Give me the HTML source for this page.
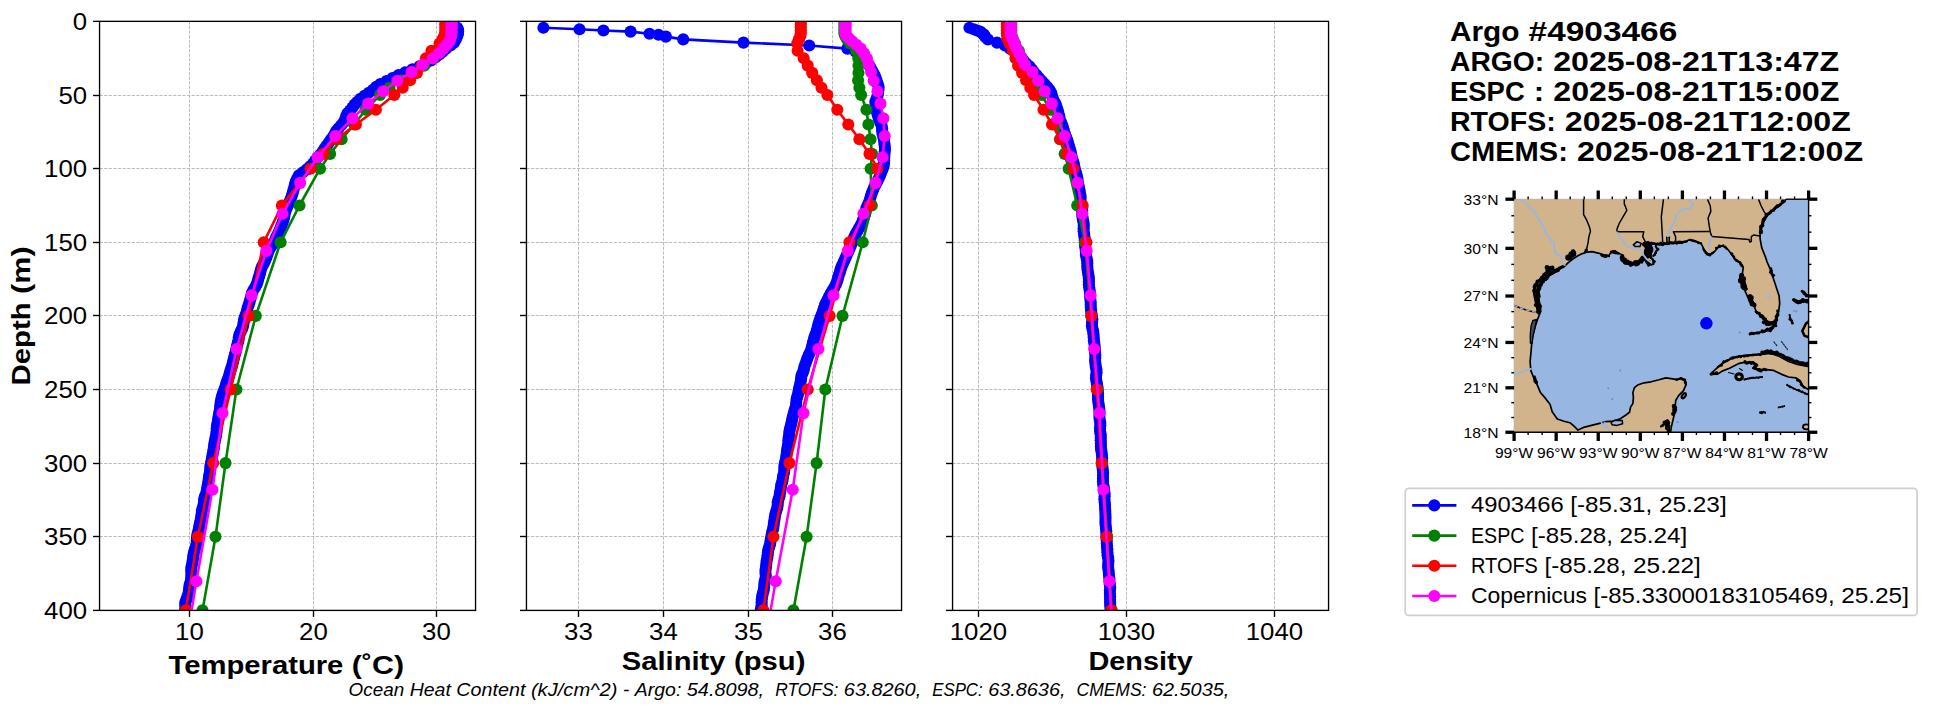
<!DOCTYPE html><html><head><meta charset="utf-8"><title>Argo 4903466 profile comparison</title><style>html,body{margin:0;padding:0;background:#fff;}body{width:1955px;height:712px;overflow:hidden;font-family:"Liberation Sans",sans-serif;}svg{display:block;}</style></head><body><svg width="1955" height="712" viewBox="0 0 1955 712" font-family="'Liberation Sans', sans-serif"><rect width="1955" height="712" fill="#fff"/><clipPath id="c1"><rect x="99.55" y="21.35" width="376.0" height="589.05"/></clipPath><g stroke="#b4b4b4" stroke-width="0.9" stroke-dasharray="3.2 1.4"><line x1="189.5" y1="21.35" x2="189.5" y2="610.4"/><line x1="313.5" y1="21.35" x2="313.5" y2="610.4"/><line x1="436.5" y1="21.35" x2="436.5" y2="610.4"/><line x1="99.55" y1="95.5" x2="475.55" y2="95.5"/><line x1="99.55" y1="168.5" x2="475.55" y2="168.5"/><line x1="99.55" y1="242.5" x2="475.55" y2="242.5"/><line x1="99.55" y1="315.5" x2="475.55" y2="315.5"/><line x1="99.55" y1="389.5" x2="475.55" y2="389.5"/><line x1="99.55" y1="463.5" x2="475.55" y2="463.5"/><line x1="99.55" y1="536.5" x2="475.55" y2="536.5"/></g><g clip-path="url(#c1)"><polyline points="457.3,27.7 457.8,29.2 458.1,30.5 458.1,31.6 457.8,33.8 457.6,34.7 457.0,36.6 455.8,39.4 454.0,42.6 450.5,45.5 446.0,48.6 442.7,51.6 439.5,54.5 435.4,57.5 431.1,60.4 425.8,63.4 419.5,66.3 412.4,69.3 405.2,72.2 398.5,75.1 392.5,78.1 386.5,81.0 380.3,84.0 376.2,86.9 373.0,89.9 368.8,92.8 364.5,95.8 360.4,98.7 357.3,101.7 354.6,104.6 352.4,107.5 350.0,110.5 347.4,113.4 346.1,116.4 345.1,119.3 343.6,122.3 341.1,125.2 338.5,128.2 336.2,131.1 334.6,134.0 332.8,137.0 330.7,139.9 328.7,142.9 326.4,145.8 324.4,148.8 322.5,151.7 320.1,154.7 317.5,157.6 315.3,160.6 313.1,163.5 310.1,166.4 306.8,169.4 302.9,172.3 298.9,175.3 297.3,178.2 295.9,181.2 295.0,184.1 294.3,187.1 293.5,190.0 292.7,192.9 291.8,195.9 290.7,198.8 289.5,201.8 288.3,204.7 286.9,207.7 285.7,210.6 284.8,213.6 284.3,216.5 283.6,219.5 282.6,222.4 281.5,225.3 280.4,228.3 279.1,231.2 277.7,234.2 276.3,237.1 275.1,240.1 273.5,243.0 271.6,246.0 269.7,248.9 268.4,251.8 267.4,254.8 266.3,257.7 265.1,260.7 263.7,263.6 262.0,266.6 260.9,269.5 260.2,272.5 259.4,275.4 258.4,278.4 257.7,281.3 256.7,284.2 255.1,287.2 253.4,290.1 251.9,293.1 251.2,296.0 250.4,299.0 249.6,301.9 248.7,304.9 247.6,307.8 247.0,310.7 246.1,313.7 245.0,316.6 244.1,319.6 243.6,322.5 243.2,325.5 242.3,328.4 240.8,331.4 239.5,334.3 238.8,337.3 238.5,340.2 237.8,343.1 236.9,346.1 236.3,349.0 235.7,352.0 234.8,354.9 234.0,357.9 233.3,360.8 232.6,363.8 231.8,366.7 230.8,369.6 229.9,372.6 229.1,375.5 228.1,378.5 227.0,381.4 226.0,384.4 225.2,387.3 224.0,390.3 222.9,393.2 222.0,396.2 221.3,399.1 220.7,402.0 220.3,405.0 220.1,407.9 219.7,410.9 219.0,413.8 218.5,416.8 218.1,419.7 217.6,422.7 217.0,425.6 216.7,428.5 216.6,431.5 216.2,434.4 215.6,437.4 215.0,440.3 214.4,443.3 214.0,446.2 213.6,449.2 213.1,452.1 212.5,455.1 212.0,458.0 211.5,460.9 210.8,463.9 210.3,466.8 210.2,469.8 209.8,472.7 209.1,475.7 208.8,478.6 208.4,481.6 207.9,484.5 207.3,487.4 206.9,490.4 206.2,493.3 204.9,496.3 204.1,499.2 204.0,502.2 203.5,505.1 202.6,508.1 201.9,511.0 201.6,514.0 201.2,516.9 200.7,519.8 200.0,522.8 199.3,525.7 198.9,528.7 198.2,531.6 197.4,534.6 197.0,537.5 196.8,540.5 196.6,543.4 196.0,546.3 194.9,549.3 194.0,552.2 193.4,555.2 193.1,558.1 192.6,561.1 192.1,564.0 191.4,567.0 191.2,569.9 191.4,572.9 191.3,575.8 191.1,578.7 190.7,581.7 189.7,584.6 189.2,587.6 189.0,590.5 188.4,593.5 187.5,596.4 186.4,599.4 185.3,602.3 185.3,605.2 185.4,608.2 185.1,611.1 184.4,614.1 183.9,617.0 183.7,620.0 183.4,622.9 183.1,625.9" fill="none" stroke="#0000ff" stroke-width="2.6" stroke-linejoin="round"/><g fill="#0000ff"><circle cx="457.3" cy="27.7" r="6.05"/><circle cx="457.8" cy="29.2" r="6.05"/><circle cx="458.1" cy="30.5" r="6.05"/><circle cx="458.1" cy="31.6" r="6.05"/><circle cx="457.8" cy="33.8" r="6.05"/><circle cx="457.6" cy="34.7" r="6.05"/><circle cx="457.0" cy="36.6" r="6.05"/><circle cx="455.8" cy="39.4" r="6.05"/><circle cx="454.0" cy="42.6" r="6.05"/><circle cx="450.5" cy="45.5" r="6.05"/><circle cx="446.0" cy="48.6" r="6.05"/><circle cx="442.7" cy="51.6" r="6.05"/><circle cx="439.5" cy="54.5" r="6.05"/><circle cx="435.4" cy="57.5" r="6.05"/><circle cx="431.1" cy="60.4" r="6.05"/><circle cx="425.8" cy="63.4" r="6.05"/><circle cx="419.5" cy="66.3" r="6.05"/><circle cx="412.4" cy="69.3" r="6.05"/><circle cx="405.2" cy="72.2" r="6.05"/><circle cx="398.5" cy="75.1" r="6.05"/><circle cx="392.5" cy="78.1" r="6.05"/><circle cx="386.5" cy="81.0" r="6.05"/><circle cx="380.3" cy="84.0" r="6.05"/><circle cx="376.2" cy="86.9" r="6.05"/><circle cx="373.0" cy="89.9" r="6.05"/><circle cx="368.8" cy="92.8" r="6.05"/><circle cx="364.5" cy="95.8" r="6.05"/><circle cx="360.4" cy="98.7" r="6.05"/><circle cx="357.3" cy="101.7" r="6.05"/><circle cx="354.6" cy="104.6" r="6.05"/><circle cx="352.4" cy="107.5" r="6.05"/><circle cx="350.0" cy="110.5" r="6.05"/><circle cx="347.4" cy="113.4" r="6.05"/><circle cx="346.1" cy="116.4" r="6.05"/><circle cx="345.1" cy="119.3" r="6.05"/><circle cx="343.6" cy="122.3" r="6.05"/><circle cx="341.1" cy="125.2" r="6.05"/><circle cx="338.5" cy="128.2" r="6.05"/><circle cx="336.2" cy="131.1" r="6.05"/><circle cx="334.6" cy="134.0" r="6.05"/><circle cx="332.8" cy="137.0" r="6.05"/><circle cx="330.7" cy="139.9" r="6.05"/><circle cx="328.7" cy="142.9" r="6.05"/><circle cx="326.4" cy="145.8" r="6.05"/><circle cx="324.4" cy="148.8" r="6.05"/><circle cx="322.5" cy="151.7" r="6.05"/><circle cx="320.1" cy="154.7" r="6.05"/><circle cx="317.5" cy="157.6" r="6.05"/><circle cx="315.3" cy="160.6" r="6.05"/><circle cx="313.1" cy="163.5" r="6.05"/><circle cx="310.1" cy="166.4" r="6.05"/><circle cx="306.8" cy="169.4" r="6.05"/><circle cx="302.9" cy="172.3" r="6.05"/><circle cx="298.9" cy="175.3" r="6.05"/><circle cx="297.3" cy="178.2" r="6.05"/><circle cx="295.9" cy="181.2" r="6.05"/><circle cx="295.0" cy="184.1" r="6.05"/><circle cx="294.3" cy="187.1" r="6.05"/><circle cx="293.5" cy="190.0" r="6.05"/><circle cx="292.7" cy="192.9" r="6.05"/><circle cx="291.8" cy="195.9" r="6.05"/><circle cx="290.7" cy="198.8" r="6.05"/><circle cx="289.5" cy="201.8" r="6.05"/><circle cx="288.3" cy="204.7" r="6.05"/><circle cx="286.9" cy="207.7" r="6.05"/><circle cx="285.7" cy="210.6" r="6.05"/><circle cx="284.8" cy="213.6" r="6.05"/><circle cx="284.3" cy="216.5" r="6.05"/><circle cx="283.6" cy="219.5" r="6.05"/><circle cx="282.6" cy="222.4" r="6.05"/><circle cx="281.5" cy="225.3" r="6.05"/><circle cx="280.4" cy="228.3" r="6.05"/><circle cx="279.1" cy="231.2" r="6.05"/><circle cx="277.7" cy="234.2" r="6.05"/><circle cx="276.3" cy="237.1" r="6.05"/><circle cx="275.1" cy="240.1" r="6.05"/><circle cx="273.5" cy="243.0" r="6.05"/><circle cx="271.6" cy="246.0" r="6.05"/><circle cx="269.7" cy="248.9" r="6.05"/><circle cx="268.4" cy="251.8" r="6.05"/><circle cx="267.4" cy="254.8" r="6.05"/><circle cx="266.3" cy="257.7" r="6.05"/><circle cx="265.1" cy="260.7" r="6.05"/><circle cx="263.7" cy="263.6" r="6.05"/><circle cx="262.0" cy="266.6" r="6.05"/><circle cx="260.9" cy="269.5" r="6.05"/><circle cx="260.2" cy="272.5" r="6.05"/><circle cx="259.4" cy="275.4" r="6.05"/><circle cx="258.4" cy="278.4" r="6.05"/><circle cx="257.7" cy="281.3" r="6.05"/><circle cx="256.7" cy="284.2" r="6.05"/><circle cx="255.1" cy="287.2" r="6.05"/><circle cx="253.4" cy="290.1" r="6.05"/><circle cx="251.9" cy="293.1" r="6.05"/><circle cx="251.2" cy="296.0" r="6.05"/><circle cx="250.4" cy="299.0" r="6.05"/><circle cx="249.6" cy="301.9" r="6.05"/><circle cx="248.7" cy="304.9" r="6.05"/><circle cx="247.6" cy="307.8" r="6.05"/><circle cx="247.0" cy="310.7" r="6.05"/><circle cx="246.1" cy="313.7" r="6.05"/><circle cx="245.0" cy="316.6" r="6.05"/><circle cx="244.1" cy="319.6" r="6.05"/><circle cx="243.6" cy="322.5" r="6.05"/><circle cx="243.2" cy="325.5" r="6.05"/><circle cx="242.3" cy="328.4" r="6.05"/><circle cx="240.8" cy="331.4" r="6.05"/><circle cx="239.5" cy="334.3" r="6.05"/><circle cx="238.8" cy="337.3" r="6.05"/><circle cx="238.5" cy="340.2" r="6.05"/><circle cx="237.8" cy="343.1" r="6.05"/><circle cx="236.9" cy="346.1" r="6.05"/><circle cx="236.3" cy="349.0" r="6.05"/><circle cx="235.7" cy="352.0" r="6.05"/><circle cx="234.8" cy="354.9" r="6.05"/><circle cx="234.0" cy="357.9" r="6.05"/><circle cx="233.3" cy="360.8" r="6.05"/><circle cx="232.6" cy="363.8" r="6.05"/><circle cx="231.8" cy="366.7" r="6.05"/><circle cx="230.8" cy="369.6" r="6.05"/><circle cx="229.9" cy="372.6" r="6.05"/><circle cx="229.1" cy="375.5" r="6.05"/><circle cx="228.1" cy="378.5" r="6.05"/><circle cx="227.0" cy="381.4" r="6.05"/><circle cx="226.0" cy="384.4" r="6.05"/><circle cx="225.2" cy="387.3" r="6.05"/><circle cx="224.0" cy="390.3" r="6.05"/><circle cx="222.9" cy="393.2" r="6.05"/><circle cx="222.0" cy="396.2" r="6.05"/><circle cx="221.3" cy="399.1" r="6.05"/><circle cx="220.7" cy="402.0" r="6.05"/><circle cx="220.3" cy="405.0" r="6.05"/><circle cx="220.1" cy="407.9" r="6.05"/><circle cx="219.7" cy="410.9" r="6.05"/><circle cx="219.0" cy="413.8" r="6.05"/><circle cx="218.5" cy="416.8" r="6.05"/><circle cx="218.1" cy="419.7" r="6.05"/><circle cx="217.6" cy="422.7" r="6.05"/><circle cx="217.0" cy="425.6" r="6.05"/><circle cx="216.7" cy="428.5" r="6.05"/><circle cx="216.6" cy="431.5" r="6.05"/><circle cx="216.2" cy="434.4" r="6.05"/><circle cx="215.6" cy="437.4" r="6.05"/><circle cx="215.0" cy="440.3" r="6.05"/><circle cx="214.4" cy="443.3" r="6.05"/><circle cx="214.0" cy="446.2" r="6.05"/><circle cx="213.6" cy="449.2" r="6.05"/><circle cx="213.1" cy="452.1" r="6.05"/><circle cx="212.5" cy="455.1" r="6.05"/><circle cx="212.0" cy="458.0" r="6.05"/><circle cx="211.5" cy="460.9" r="6.05"/><circle cx="210.8" cy="463.9" r="6.05"/><circle cx="210.3" cy="466.8" r="6.05"/><circle cx="210.2" cy="469.8" r="6.05"/><circle cx="209.8" cy="472.7" r="6.05"/><circle cx="209.1" cy="475.7" r="6.05"/><circle cx="208.8" cy="478.6" r="6.05"/><circle cx="208.4" cy="481.6" r="6.05"/><circle cx="207.9" cy="484.5" r="6.05"/><circle cx="207.3" cy="487.4" r="6.05"/><circle cx="206.9" cy="490.4" r="6.05"/><circle cx="206.2" cy="493.3" r="6.05"/><circle cx="204.9" cy="496.3" r="6.05"/><circle cx="204.1" cy="499.2" r="6.05"/><circle cx="204.0" cy="502.2" r="6.05"/><circle cx="203.5" cy="505.1" r="6.05"/><circle cx="202.6" cy="508.1" r="6.05"/><circle cx="201.9" cy="511.0" r="6.05"/><circle cx="201.6" cy="514.0" r="6.05"/><circle cx="201.2" cy="516.9" r="6.05"/><circle cx="200.7" cy="519.8" r="6.05"/><circle cx="200.0" cy="522.8" r="6.05"/><circle cx="199.3" cy="525.7" r="6.05"/><circle cx="198.9" cy="528.7" r="6.05"/><circle cx="198.2" cy="531.6" r="6.05"/><circle cx="197.4" cy="534.6" r="6.05"/><circle cx="197.0" cy="537.5" r="6.05"/><circle cx="196.8" cy="540.5" r="6.05"/><circle cx="196.6" cy="543.4" r="6.05"/><circle cx="196.0" cy="546.3" r="6.05"/><circle cx="194.9" cy="549.3" r="6.05"/><circle cx="194.0" cy="552.2" r="6.05"/><circle cx="193.4" cy="555.2" r="6.05"/><circle cx="193.1" cy="558.1" r="6.05"/><circle cx="192.6" cy="561.1" r="6.05"/><circle cx="192.1" cy="564.0" r="6.05"/><circle cx="191.4" cy="567.0" r="6.05"/><circle cx="191.2" cy="569.9" r="6.05"/><circle cx="191.4" cy="572.9" r="6.05"/><circle cx="191.3" cy="575.8" r="6.05"/><circle cx="191.1" cy="578.7" r="6.05"/><circle cx="190.7" cy="581.7" r="6.05"/><circle cx="189.7" cy="584.6" r="6.05"/><circle cx="189.2" cy="587.6" r="6.05"/><circle cx="189.0" cy="590.5" r="6.05"/><circle cx="188.4" cy="593.5" r="6.05"/><circle cx="187.5" cy="596.4" r="6.05"/><circle cx="186.4" cy="599.4" r="6.05"/><circle cx="185.3" cy="602.3" r="6.05"/><circle cx="185.3" cy="605.2" r="6.05"/><circle cx="185.4" cy="608.2" r="6.05"/><circle cx="185.1" cy="611.1" r="6.05"/><circle cx="184.4" cy="614.1" r="6.05"/><circle cx="183.9" cy="617.0" r="6.05"/></g><polyline points="448.5,21.4 448.5,24.3 448.5,27.3 448.5,30.2 448.4,33.2 448.0,36.1 447.0,39.1 445.0,43.5 440.0,50.8 433.5,58.2 424.2,65.6 413.0,72.9 401.5,80.3 389.5,87.7 380.0,95.0 365.6,109.8 354.3,124.5 341.6,139.2 330.1,153.9 320.0,168.7 299.5,205.5 280.6,242.3 255.8,315.9 236.4,389.5 225.5,463.1 215.5,536.8 202.5,610.4 176.5,757.6" fill="none" stroke="#008000" stroke-width="2.6" stroke-linejoin="round"/><g fill="#008000"><circle cx="448.5" cy="21.4" r="6.05"/><circle cx="448.5" cy="24.3" r="6.05"/><circle cx="448.5" cy="27.3" r="6.05"/><circle cx="448.5" cy="30.2" r="6.05"/><circle cx="448.4" cy="33.2" r="6.05"/><circle cx="448.0" cy="36.1" r="6.05"/><circle cx="447.0" cy="39.1" r="6.05"/><circle cx="445.0" cy="43.5" r="6.05"/><circle cx="440.0" cy="50.8" r="6.05"/><circle cx="433.5" cy="58.2" r="6.05"/><circle cx="424.2" cy="65.6" r="6.05"/><circle cx="413.0" cy="72.9" r="6.05"/><circle cx="401.5" cy="80.3" r="6.05"/><circle cx="389.5" cy="87.7" r="6.05"/><circle cx="380.0" cy="95.0" r="6.05"/><circle cx="365.6" cy="109.8" r="6.05"/><circle cx="354.3" cy="124.5" r="6.05"/><circle cx="341.6" cy="139.2" r="6.05"/><circle cx="330.1" cy="153.9" r="6.05"/><circle cx="320.0" cy="168.7" r="6.05"/><circle cx="299.5" cy="205.5" r="6.05"/><circle cx="280.6" cy="242.3" r="6.05"/><circle cx="255.8" cy="315.9" r="6.05"/><circle cx="236.4" cy="389.5" r="6.05"/><circle cx="225.5" cy="463.1" r="6.05"/><circle cx="215.5" cy="536.8" r="6.05"/><circle cx="202.5" cy="610.4" r="6.05"/></g><polyline points="445.3,21.4 445.3,24.3 445.3,27.3 445.3,30.2 445.2,33.2 444.2,36.1 442.7,39.1 439.5,43.5 431.5,50.8 425.9,58.2 421.5,65.6 416.9,72.9 410.1,80.3 402.7,87.7 394.3,95.0 375.9,109.8 355.9,124.5 336.4,139.2 323.2,153.9 310.5,168.7 281.9,205.5 263.7,242.3 248.5,315.9 230.6,389.5 213.2,463.1 197.9,536.8 185.8,610.4 161.6,757.6" fill="none" stroke="#ff0000" stroke-width="2.6" stroke-linejoin="round"/><g fill="#ff0000"><circle cx="445.3" cy="21.4" r="6.05"/><circle cx="445.3" cy="24.3" r="6.05"/><circle cx="445.3" cy="27.3" r="6.05"/><circle cx="445.3" cy="30.2" r="6.05"/><circle cx="445.2" cy="33.2" r="6.05"/><circle cx="444.2" cy="36.1" r="6.05"/><circle cx="442.7" cy="39.1" r="6.05"/><circle cx="439.5" cy="43.5" r="6.05"/><circle cx="431.5" cy="50.8" r="6.05"/><circle cx="425.9" cy="58.2" r="6.05"/><circle cx="421.5" cy="65.6" r="6.05"/><circle cx="416.9" cy="72.9" r="6.05"/><circle cx="410.1" cy="80.3" r="6.05"/><circle cx="402.7" cy="87.7" r="6.05"/><circle cx="394.3" cy="95.0" r="6.05"/><circle cx="375.9" cy="109.8" r="6.05"/><circle cx="355.9" cy="124.5" r="6.05"/><circle cx="336.4" cy="139.2" r="6.05"/><circle cx="323.2" cy="153.9" r="6.05"/><circle cx="310.5" cy="168.7" r="6.05"/><circle cx="281.9" cy="205.5" r="6.05"/><circle cx="263.7" cy="242.3" r="6.05"/><circle cx="248.5" cy="315.9" r="6.05"/><circle cx="230.6" cy="389.5" r="6.05"/><circle cx="213.2" cy="463.1" r="6.05"/><circle cx="197.9" cy="536.8" r="6.05"/><circle cx="185.8" cy="610.4" r="6.05"/></g><polyline points="451.6,22.1 451.6,23.7 451.6,25.3 451.6,27.0 451.6,28.9 451.6,30.9 451.5,33.1 451.2,35.5 450.5,38.2 449.6,41.2 446.8,44.7 443.3,48.6 439.0,53.2 432.7,58.5 422.7,64.7 411.6,72.1 397.4,80.7 383.2,91.2 368.2,103.6 352.5,118.3 335.3,136.0 317.7,157.3 300.1,182.9 282.5,213.8 266.4,250.9 251.6,295.4 236.6,349.0 222.5,413.1 212.4,489.8 196.4,581.2 178.6,689.8" fill="none" stroke="#ff00ff" stroke-width="2.6" stroke-linejoin="round"/><g fill="#ff00ff"><circle cx="451.6" cy="22.1" r="6.05"/><circle cx="451.6" cy="23.7" r="6.05"/><circle cx="451.6" cy="25.3" r="6.05"/><circle cx="451.6" cy="27.0" r="6.05"/><circle cx="451.6" cy="28.9" r="6.05"/><circle cx="451.6" cy="30.9" r="6.05"/><circle cx="451.5" cy="33.1" r="6.05"/><circle cx="451.2" cy="35.5" r="6.05"/><circle cx="450.5" cy="38.2" r="6.05"/><circle cx="449.6" cy="41.2" r="6.05"/><circle cx="446.8" cy="44.7" r="6.05"/><circle cx="443.3" cy="48.6" r="6.05"/><circle cx="439.0" cy="53.2" r="6.05"/><circle cx="432.7" cy="58.5" r="6.05"/><circle cx="422.7" cy="64.7" r="6.05"/><circle cx="411.6" cy="72.1" r="6.05"/><circle cx="397.4" cy="80.7" r="6.05"/><circle cx="383.2" cy="91.2" r="6.05"/><circle cx="368.2" cy="103.6" r="6.05"/><circle cx="352.5" cy="118.3" r="6.05"/><circle cx="335.3" cy="136.0" r="6.05"/><circle cx="317.7" cy="157.3" r="6.05"/><circle cx="300.1" cy="182.9" r="6.05"/><circle cx="282.5" cy="213.8" r="6.05"/><circle cx="266.4" cy="250.9" r="6.05"/><circle cx="251.6" cy="295.4" r="6.05"/><circle cx="236.6" cy="349.0" r="6.05"/><circle cx="222.5" cy="413.1" r="6.05"/><circle cx="212.4" cy="489.8" r="6.05"/><circle cx="196.4" cy="581.2" r="6.05"/></g></g><rect x="99.55" y="21.35" width="376.0" height="589.05" fill="none" stroke="#000" stroke-width="1.34"/><g stroke="#000" stroke-width="1.39"><line x1="189.5" y1="610.4" x2="189.5" y2="616.9"/><line x1="313.5" y1="610.4" x2="313.5" y2="616.9"/><line x1="436.5" y1="610.4" x2="436.5" y2="616.9"/><line x1="93.05" y1="21.35" x2="99.55" y2="21.35"/><line x1="93.05" y1="95.5" x2="99.55" y2="95.5"/><line x1="93.05" y1="168.5" x2="99.55" y2="168.5"/><line x1="93.05" y1="242.5" x2="99.55" y2="242.5"/><line x1="93.05" y1="315.5" x2="99.55" y2="315.5"/><line x1="93.05" y1="389.5" x2="99.55" y2="389.5"/><line x1="93.05" y1="463.5" x2="99.55" y2="463.5"/><line x1="93.05" y1="536.5" x2="99.55" y2="536.5"/><line x1="93.05" y1="610.4" x2="99.55" y2="610.4"/></g><text x="175.14" y="640.00" font-size="23.88" fill="#000" textLength="28.72" lengthAdjust="spacingAndGlyphs">10</text><text x="299.14" y="640.00" font-size="23.88" fill="#000" textLength="28.72" lengthAdjust="spacingAndGlyphs">20</text><text x="422.14" y="640.00" font-size="23.88" fill="#000" textLength="28.72" lengthAdjust="spacingAndGlyphs">30</text><clipPath id="c2"><rect x="526.45" y="21.35" width="375.0999999999999" height="589.05"/></clipPath><g stroke="#b4b4b4" stroke-width="0.9" stroke-dasharray="3.2 1.4"><line x1="578.5" y1="21.35" x2="578.5" y2="610.4"/><line x1="663.5" y1="21.35" x2="663.5" y2="610.4"/><line x1="748.5" y1="21.35" x2="748.5" y2="610.4"/><line x1="832.5" y1="21.35" x2="832.5" y2="610.4"/><line x1="526.45" y1="95.5" x2="901.55" y2="95.5"/><line x1="526.45" y1="168.5" x2="901.55" y2="168.5"/><line x1="526.45" y1="242.5" x2="901.55" y2="242.5"/><line x1="526.45" y1="315.5" x2="901.55" y2="315.5"/><line x1="526.45" y1="389.5" x2="901.55" y2="389.5"/><line x1="526.45" y1="463.5" x2="901.55" y2="463.5"/><line x1="526.45" y1="536.5" x2="901.55" y2="536.5"/></g><g clip-path="url(#c2)"><polyline points="543.4,27.7 579.5,29.2 603.4,30.5 630.6,31.6 649.5,33.8 658.5,34.7 665.9,36.6 683.2,39.4 743.5,42.6 809.2,45.5 847.4,48.6 855.6,51.6 860.4,54.5 863.8,57.5 866.0,60.4 867.9,63.4 869.8,66.3 871.5,69.3 873.0,72.2 874.6,75.1 875.7,78.1 876.7,81.0 877.7,84.0 878.6,86.9 878.5,89.9 878.0,92.8 877.6,95.8 876.6,98.7 875.3,101.7 875.7,104.6 876.3,107.5 876.4,110.5 877.3,113.4 878.2,116.4 879.0,119.3 880.4,122.3 881.5,125.2 882.1,128.2 882.2,131.1 882.5,134.0 883.3,137.0 884.1,139.9 884.3,142.9 884.7,145.8 885.0,148.8 884.7,151.7 884.4,154.7 884.3,157.6 884.2,160.6 884.0,163.5 883.5,166.4 882.5,169.4 881.2,172.3 880.1,175.3 878.8,178.2 877.3,181.2 875.9,184.1 874.3,187.1 873.1,190.0 871.9,192.9 870.9,195.9 870.1,198.8 869.2,201.8 867.8,204.7 866.5,207.7 865.8,210.6 865.3,213.6 864.2,216.5 863.1,219.5 862.2,222.4 860.6,225.3 858.9,228.3 857.2,231.2 855.5,234.2 854.2,237.1 853.2,240.1 852.0,243.0 850.7,246.0 849.5,248.9 848.2,251.8 846.9,254.8 845.6,257.7 844.3,260.7 843.0,263.6 841.6,266.6 840.6,269.5 839.8,272.5 838.7,275.4 837.9,278.4 837.1,281.3 835.9,284.2 834.4,287.2 832.7,290.1 830.9,293.1 829.3,296.0 827.9,299.0 826.5,301.9 825.0,304.9 824.0,307.8 823.1,310.7 822.1,313.7 821.0,316.6 819.9,319.6 818.9,322.5 818.1,325.5 817.4,328.4 816.6,331.4 815.5,334.3 814.4,337.3 813.6,340.2 812.9,343.1 812.1,346.1 811.4,349.0 810.3,352.0 808.8,354.9 807.5,357.9 806.6,360.8 805.5,363.8 804.4,366.7 803.9,369.6 802.8,372.6 801.5,375.5 801.1,378.5 800.7,381.4 800.1,384.4 799.3,387.3 798.7,390.3 798.2,393.2 797.4,396.2 796.6,399.1 796.3,402.0 796.1,405.0 795.4,407.9 794.4,410.9 793.6,413.8 792.8,416.8 792.1,419.7 791.5,422.7 790.9,425.6 790.0,428.5 789.4,431.5 789.2,434.4 788.7,437.4 788.4,440.3 788.3,443.3 787.8,446.2 787.2,449.2 786.9,452.1 786.5,455.1 786.1,458.0 785.5,460.9 784.7,463.9 784.3,466.8 784.3,469.8 784.0,472.7 783.1,475.7 782.8,478.6 782.3,481.6 781.3,484.5 780.9,487.4 780.5,490.4 779.9,493.3 779.5,496.3 778.5,499.2 777.7,502.2 777.7,505.1 777.2,508.1 776.3,511.0 775.4,514.0 774.8,516.9 774.5,519.8 773.9,522.8 773.6,525.7 773.1,528.7 772.3,531.6 771.7,534.6 771.2,537.5 770.6,540.5 770.2,543.4 769.4,546.3 768.4,549.3 767.9,552.2 767.6,555.2 767.3,558.1 766.6,561.1 766.3,564.0 766.0,567.0 765.5,569.9 765.5,572.9 765.8,575.8 765.4,578.7 764.6,581.7 764.3,584.6 764.2,587.6 763.7,590.5 762.8,593.5 762.1,596.4 761.7,599.4 761.6,602.3 761.6,605.2 761.1,608.2 760.5,611.1 760.0,614.1 759.5,617.0 758.9,620.0 758.7,622.9 758.7,625.9" fill="none" stroke="#0000ff" stroke-width="2.6" stroke-linejoin="round"/><g fill="#0000ff"><circle cx="543.4" cy="27.7" r="6.05"/><circle cx="579.5" cy="29.2" r="6.05"/><circle cx="603.4" cy="30.5" r="6.05"/><circle cx="630.6" cy="31.6" r="6.05"/><circle cx="649.5" cy="33.8" r="6.05"/><circle cx="658.5" cy="34.7" r="6.05"/><circle cx="665.9" cy="36.6" r="6.05"/><circle cx="683.2" cy="39.4" r="6.05"/><circle cx="743.5" cy="42.6" r="6.05"/><circle cx="809.2" cy="45.5" r="6.05"/><circle cx="847.4" cy="48.6" r="6.05"/><circle cx="855.6" cy="51.6" r="6.05"/><circle cx="860.4" cy="54.5" r="6.05"/><circle cx="863.8" cy="57.5" r="6.05"/><circle cx="866.0" cy="60.4" r="6.05"/><circle cx="867.9" cy="63.4" r="6.05"/><circle cx="869.8" cy="66.3" r="6.05"/><circle cx="871.5" cy="69.3" r="6.05"/><circle cx="873.0" cy="72.2" r="6.05"/><circle cx="874.6" cy="75.1" r="6.05"/><circle cx="875.7" cy="78.1" r="6.05"/><circle cx="876.7" cy="81.0" r="6.05"/><circle cx="877.7" cy="84.0" r="6.05"/><circle cx="878.6" cy="86.9" r="6.05"/><circle cx="878.5" cy="89.9" r="6.05"/><circle cx="878.0" cy="92.8" r="6.05"/><circle cx="877.6" cy="95.8" r="6.05"/><circle cx="876.6" cy="98.7" r="6.05"/><circle cx="875.3" cy="101.7" r="6.05"/><circle cx="875.7" cy="104.6" r="6.05"/><circle cx="876.3" cy="107.5" r="6.05"/><circle cx="876.4" cy="110.5" r="6.05"/><circle cx="877.3" cy="113.4" r="6.05"/><circle cx="878.2" cy="116.4" r="6.05"/><circle cx="879.0" cy="119.3" r="6.05"/><circle cx="880.4" cy="122.3" r="6.05"/><circle cx="881.5" cy="125.2" r="6.05"/><circle cx="882.1" cy="128.2" r="6.05"/><circle cx="882.2" cy="131.1" r="6.05"/><circle cx="882.5" cy="134.0" r="6.05"/><circle cx="883.3" cy="137.0" r="6.05"/><circle cx="884.1" cy="139.9" r="6.05"/><circle cx="884.3" cy="142.9" r="6.05"/><circle cx="884.7" cy="145.8" r="6.05"/><circle cx="885.0" cy="148.8" r="6.05"/><circle cx="884.7" cy="151.7" r="6.05"/><circle cx="884.4" cy="154.7" r="6.05"/><circle cx="884.3" cy="157.6" r="6.05"/><circle cx="884.2" cy="160.6" r="6.05"/><circle cx="884.0" cy="163.5" r="6.05"/><circle cx="883.5" cy="166.4" r="6.05"/><circle cx="882.5" cy="169.4" r="6.05"/><circle cx="881.2" cy="172.3" r="6.05"/><circle cx="880.1" cy="175.3" r="6.05"/><circle cx="878.8" cy="178.2" r="6.05"/><circle cx="877.3" cy="181.2" r="6.05"/><circle cx="875.9" cy="184.1" r="6.05"/><circle cx="874.3" cy="187.1" r="6.05"/><circle cx="873.1" cy="190.0" r="6.05"/><circle cx="871.9" cy="192.9" r="6.05"/><circle cx="870.9" cy="195.9" r="6.05"/><circle cx="870.1" cy="198.8" r="6.05"/><circle cx="869.2" cy="201.8" r="6.05"/><circle cx="867.8" cy="204.7" r="6.05"/><circle cx="866.5" cy="207.7" r="6.05"/><circle cx="865.8" cy="210.6" r="6.05"/><circle cx="865.3" cy="213.6" r="6.05"/><circle cx="864.2" cy="216.5" r="6.05"/><circle cx="863.1" cy="219.5" r="6.05"/><circle cx="862.2" cy="222.4" r="6.05"/><circle cx="860.6" cy="225.3" r="6.05"/><circle cx="858.9" cy="228.3" r="6.05"/><circle cx="857.2" cy="231.2" r="6.05"/><circle cx="855.5" cy="234.2" r="6.05"/><circle cx="854.2" cy="237.1" r="6.05"/><circle cx="853.2" cy="240.1" r="6.05"/><circle cx="852.0" cy="243.0" r="6.05"/><circle cx="850.7" cy="246.0" r="6.05"/><circle cx="849.5" cy="248.9" r="6.05"/><circle cx="848.2" cy="251.8" r="6.05"/><circle cx="846.9" cy="254.8" r="6.05"/><circle cx="845.6" cy="257.7" r="6.05"/><circle cx="844.3" cy="260.7" r="6.05"/><circle cx="843.0" cy="263.6" r="6.05"/><circle cx="841.6" cy="266.6" r="6.05"/><circle cx="840.6" cy="269.5" r="6.05"/><circle cx="839.8" cy="272.5" r="6.05"/><circle cx="838.7" cy="275.4" r="6.05"/><circle cx="837.9" cy="278.4" r="6.05"/><circle cx="837.1" cy="281.3" r="6.05"/><circle cx="835.9" cy="284.2" r="6.05"/><circle cx="834.4" cy="287.2" r="6.05"/><circle cx="832.7" cy="290.1" r="6.05"/><circle cx="830.9" cy="293.1" r="6.05"/><circle cx="829.3" cy="296.0" r="6.05"/><circle cx="827.9" cy="299.0" r="6.05"/><circle cx="826.5" cy="301.9" r="6.05"/><circle cx="825.0" cy="304.9" r="6.05"/><circle cx="824.0" cy="307.8" r="6.05"/><circle cx="823.1" cy="310.7" r="6.05"/><circle cx="822.1" cy="313.7" r="6.05"/><circle cx="821.0" cy="316.6" r="6.05"/><circle cx="819.9" cy="319.6" r="6.05"/><circle cx="818.9" cy="322.5" r="6.05"/><circle cx="818.1" cy="325.5" r="6.05"/><circle cx="817.4" cy="328.4" r="6.05"/><circle cx="816.6" cy="331.4" r="6.05"/><circle cx="815.5" cy="334.3" r="6.05"/><circle cx="814.4" cy="337.3" r="6.05"/><circle cx="813.6" cy="340.2" r="6.05"/><circle cx="812.9" cy="343.1" r="6.05"/><circle cx="812.1" cy="346.1" r="6.05"/><circle cx="811.4" cy="349.0" r="6.05"/><circle cx="810.3" cy="352.0" r="6.05"/><circle cx="808.8" cy="354.9" r="6.05"/><circle cx="807.5" cy="357.9" r="6.05"/><circle cx="806.6" cy="360.8" r="6.05"/><circle cx="805.5" cy="363.8" r="6.05"/><circle cx="804.4" cy="366.7" r="6.05"/><circle cx="803.9" cy="369.6" r="6.05"/><circle cx="802.8" cy="372.6" r="6.05"/><circle cx="801.5" cy="375.5" r="6.05"/><circle cx="801.1" cy="378.5" r="6.05"/><circle cx="800.7" cy="381.4" r="6.05"/><circle cx="800.1" cy="384.4" r="6.05"/><circle cx="799.3" cy="387.3" r="6.05"/><circle cx="798.7" cy="390.3" r="6.05"/><circle cx="798.2" cy="393.2" r="6.05"/><circle cx="797.4" cy="396.2" r="6.05"/><circle cx="796.6" cy="399.1" r="6.05"/><circle cx="796.3" cy="402.0" r="6.05"/><circle cx="796.1" cy="405.0" r="6.05"/><circle cx="795.4" cy="407.9" r="6.05"/><circle cx="794.4" cy="410.9" r="6.05"/><circle cx="793.6" cy="413.8" r="6.05"/><circle cx="792.8" cy="416.8" r="6.05"/><circle cx="792.1" cy="419.7" r="6.05"/><circle cx="791.5" cy="422.7" r="6.05"/><circle cx="790.9" cy="425.6" r="6.05"/><circle cx="790.0" cy="428.5" r="6.05"/><circle cx="789.4" cy="431.5" r="6.05"/><circle cx="789.2" cy="434.4" r="6.05"/><circle cx="788.7" cy="437.4" r="6.05"/><circle cx="788.4" cy="440.3" r="6.05"/><circle cx="788.3" cy="443.3" r="6.05"/><circle cx="787.8" cy="446.2" r="6.05"/><circle cx="787.2" cy="449.2" r="6.05"/><circle cx="786.9" cy="452.1" r="6.05"/><circle cx="786.5" cy="455.1" r="6.05"/><circle cx="786.1" cy="458.0" r="6.05"/><circle cx="785.5" cy="460.9" r="6.05"/><circle cx="784.7" cy="463.9" r="6.05"/><circle cx="784.3" cy="466.8" r="6.05"/><circle cx="784.3" cy="469.8" r="6.05"/><circle cx="784.0" cy="472.7" r="6.05"/><circle cx="783.1" cy="475.7" r="6.05"/><circle cx="782.8" cy="478.6" r="6.05"/><circle cx="782.3" cy="481.6" r="6.05"/><circle cx="781.3" cy="484.5" r="6.05"/><circle cx="780.9" cy="487.4" r="6.05"/><circle cx="780.5" cy="490.4" r="6.05"/><circle cx="779.9" cy="493.3" r="6.05"/><circle cx="779.5" cy="496.3" r="6.05"/><circle cx="778.5" cy="499.2" r="6.05"/><circle cx="777.7" cy="502.2" r="6.05"/><circle cx="777.7" cy="505.1" r="6.05"/><circle cx="777.2" cy="508.1" r="6.05"/><circle cx="776.3" cy="511.0" r="6.05"/><circle cx="775.4" cy="514.0" r="6.05"/><circle cx="774.8" cy="516.9" r="6.05"/><circle cx="774.5" cy="519.8" r="6.05"/><circle cx="773.9" cy="522.8" r="6.05"/><circle cx="773.6" cy="525.7" r="6.05"/><circle cx="773.1" cy="528.7" r="6.05"/><circle cx="772.3" cy="531.6" r="6.05"/><circle cx="771.7" cy="534.6" r="6.05"/><circle cx="771.2" cy="537.5" r="6.05"/><circle cx="770.6" cy="540.5" r="6.05"/><circle cx="770.2" cy="543.4" r="6.05"/><circle cx="769.4" cy="546.3" r="6.05"/><circle cx="768.4" cy="549.3" r="6.05"/><circle cx="767.9" cy="552.2" r="6.05"/><circle cx="767.6" cy="555.2" r="6.05"/><circle cx="767.3" cy="558.1" r="6.05"/><circle cx="766.6" cy="561.1" r="6.05"/><circle cx="766.3" cy="564.0" r="6.05"/><circle cx="766.0" cy="567.0" r="6.05"/><circle cx="765.5" cy="569.9" r="6.05"/><circle cx="765.5" cy="572.9" r="6.05"/><circle cx="765.8" cy="575.8" r="6.05"/><circle cx="765.4" cy="578.7" r="6.05"/><circle cx="764.6" cy="581.7" r="6.05"/><circle cx="764.3" cy="584.6" r="6.05"/><circle cx="764.2" cy="587.6" r="6.05"/><circle cx="763.7" cy="590.5" r="6.05"/><circle cx="762.8" cy="593.5" r="6.05"/><circle cx="762.1" cy="596.4" r="6.05"/><circle cx="761.7" cy="599.4" r="6.05"/><circle cx="761.6" cy="602.3" r="6.05"/><circle cx="761.6" cy="605.2" r="6.05"/><circle cx="761.1" cy="608.2" r="6.05"/><circle cx="760.5" cy="611.1" r="6.05"/><circle cx="760.0" cy="614.1" r="6.05"/><circle cx="759.5" cy="617.0" r="6.05"/></g><polyline points="844.4,21.4 844.4,24.3 844.4,27.3 844.4,30.2 844.4,33.2 845.2,36.1 846.8,39.1 850.0,43.5 856.3,50.8 858.3,58.2 858.5,65.6 858.5,72.9 858.1,80.3 859.4,87.7 861.1,95.0 866.4,109.8 868.4,124.5 870.5,139.2 872.0,153.9 870.6,168.7 871.8,205.5 862.7,242.3 842.5,315.9 825.3,389.5 816.6,463.1 806.6,536.8 793.4,610.4 767.0,757.6" fill="none" stroke="#008000" stroke-width="2.6" stroke-linejoin="round"/><g fill="#008000"><circle cx="844.4" cy="21.4" r="6.05"/><circle cx="844.4" cy="24.3" r="6.05"/><circle cx="844.4" cy="27.3" r="6.05"/><circle cx="844.4" cy="30.2" r="6.05"/><circle cx="844.4" cy="33.2" r="6.05"/><circle cx="845.2" cy="36.1" r="6.05"/><circle cx="846.8" cy="39.1" r="6.05"/><circle cx="850.0" cy="43.5" r="6.05"/><circle cx="856.3" cy="50.8" r="6.05"/><circle cx="858.3" cy="58.2" r="6.05"/><circle cx="858.5" cy="65.6" r="6.05"/><circle cx="858.5" cy="72.9" r="6.05"/><circle cx="858.1" cy="80.3" r="6.05"/><circle cx="859.4" cy="87.7" r="6.05"/><circle cx="861.1" cy="95.0" r="6.05"/><circle cx="866.4" cy="109.8" r="6.05"/><circle cx="868.4" cy="124.5" r="6.05"/><circle cx="870.5" cy="139.2" r="6.05"/><circle cx="872.0" cy="153.9" r="6.05"/><circle cx="870.6" cy="168.7" r="6.05"/><circle cx="871.8" cy="205.5" r="6.05"/><circle cx="862.7" cy="242.3" r="6.05"/><circle cx="842.5" cy="315.9" r="6.05"/><circle cx="825.3" cy="389.5" r="6.05"/><circle cx="816.6" cy="463.1" r="6.05"/><circle cx="806.6" cy="536.8" r="6.05"/><circle cx="793.4" cy="610.4" r="6.05"/></g><polyline points="800.8,21.4 800.8,24.3 800.8,27.3 800.8,30.2 800.8,33.2 800.4,36.1 799.0,39.1 797.2,43.5 797.6,50.8 803.7,58.2 807.7,65.6 812.2,72.9 816.9,80.3 821.5,87.7 827.4,95.0 837.3,109.8 848.3,124.5 859.4,139.2 869.5,153.9 877.4,168.7 869.7,205.5 849.4,242.3 829.6,315.9 807.7,389.5 789.4,463.1 773.5,536.8 763.4,610.4 743.0,757.6" fill="none" stroke="#ff0000" stroke-width="2.6" stroke-linejoin="round"/><g fill="#ff0000"><circle cx="800.8" cy="21.4" r="6.05"/><circle cx="800.8" cy="24.3" r="6.05"/><circle cx="800.8" cy="27.3" r="6.05"/><circle cx="800.8" cy="30.2" r="6.05"/><circle cx="800.8" cy="33.2" r="6.05"/><circle cx="800.4" cy="36.1" r="6.05"/><circle cx="799.0" cy="39.1" r="6.05"/><circle cx="797.2" cy="43.5" r="6.05"/><circle cx="797.6" cy="50.8" r="6.05"/><circle cx="803.7" cy="58.2" r="6.05"/><circle cx="807.7" cy="65.6" r="6.05"/><circle cx="812.2" cy="72.9" r="6.05"/><circle cx="816.9" cy="80.3" r="6.05"/><circle cx="821.5" cy="87.7" r="6.05"/><circle cx="827.4" cy="95.0" r="6.05"/><circle cx="837.3" cy="109.8" r="6.05"/><circle cx="848.3" cy="124.5" r="6.05"/><circle cx="859.4" cy="139.2" r="6.05"/><circle cx="869.5" cy="153.9" r="6.05"/><circle cx="877.4" cy="168.7" r="6.05"/><circle cx="869.7" cy="205.5" r="6.05"/><circle cx="849.4" cy="242.3" r="6.05"/><circle cx="829.6" cy="315.9" r="6.05"/><circle cx="807.7" cy="389.5" r="6.05"/><circle cx="789.4" cy="463.1" r="6.05"/><circle cx="773.5" cy="536.8" r="6.05"/><circle cx="763.4" cy="610.4" r="6.05"/></g><polyline points="845.5,22.1 845.5,23.7 845.5,25.3 845.5,27.0 845.5,28.9 845.5,30.9 845.5,33.1 846.1,35.5 849.0,38.2 852.2,41.2 856.4,44.7 860.6,48.6 864.0,53.2 866.9,58.5 868.8,64.7 871.1,72.1 873.7,80.7 877.5,91.2 880.5,103.6 883.4,118.3 884.7,136.0 882.6,157.3 875.6,182.9 863.4,213.8 847.8,250.9 833.5,295.4 818.4,349.0 803.5,413.1 792.7,489.8 775.7,581.2 756.7,689.8" fill="none" stroke="#ff00ff" stroke-width="2.6" stroke-linejoin="round"/><g fill="#ff00ff"><circle cx="845.5" cy="22.1" r="6.05"/><circle cx="845.5" cy="23.7" r="6.05"/><circle cx="845.5" cy="25.3" r="6.05"/><circle cx="845.5" cy="27.0" r="6.05"/><circle cx="845.5" cy="28.9" r="6.05"/><circle cx="845.5" cy="30.9" r="6.05"/><circle cx="845.5" cy="33.1" r="6.05"/><circle cx="846.1" cy="35.5" r="6.05"/><circle cx="849.0" cy="38.2" r="6.05"/><circle cx="852.2" cy="41.2" r="6.05"/><circle cx="856.4" cy="44.7" r="6.05"/><circle cx="860.6" cy="48.6" r="6.05"/><circle cx="864.0" cy="53.2" r="6.05"/><circle cx="866.9" cy="58.5" r="6.05"/><circle cx="868.8" cy="64.7" r="6.05"/><circle cx="871.1" cy="72.1" r="6.05"/><circle cx="873.7" cy="80.7" r="6.05"/><circle cx="877.5" cy="91.2" r="6.05"/><circle cx="880.5" cy="103.6" r="6.05"/><circle cx="883.4" cy="118.3" r="6.05"/><circle cx="884.7" cy="136.0" r="6.05"/><circle cx="882.6" cy="157.3" r="6.05"/><circle cx="875.6" cy="182.9" r="6.05"/><circle cx="863.4" cy="213.8" r="6.05"/><circle cx="847.8" cy="250.9" r="6.05"/><circle cx="833.5" cy="295.4" r="6.05"/><circle cx="818.4" cy="349.0" r="6.05"/><circle cx="803.5" cy="413.1" r="6.05"/><circle cx="792.7" cy="489.8" r="6.05"/><circle cx="775.7" cy="581.2" r="6.05"/></g></g><rect x="526.45" y="21.35" width="375.0999999999999" height="589.05" fill="none" stroke="#000" stroke-width="1.34"/><g stroke="#000" stroke-width="1.39"><line x1="578.5" y1="610.4" x2="578.5" y2="616.9"/><line x1="663.5" y1="610.4" x2="663.5" y2="616.9"/><line x1="748.5" y1="610.4" x2="748.5" y2="616.9"/><line x1="832.5" y1="610.4" x2="832.5" y2="616.9"/><line x1="519.95" y1="21.35" x2="526.45" y2="21.35"/><line x1="519.95" y1="95.5" x2="526.45" y2="95.5"/><line x1="519.95" y1="168.5" x2="526.45" y2="168.5"/><line x1="519.95" y1="242.5" x2="526.45" y2="242.5"/><line x1="519.95" y1="315.5" x2="526.45" y2="315.5"/><line x1="519.95" y1="389.5" x2="526.45" y2="389.5"/><line x1="519.95" y1="463.5" x2="526.45" y2="463.5"/><line x1="519.95" y1="536.5" x2="526.45" y2="536.5"/><line x1="519.95" y1="610.4" x2="526.45" y2="610.4"/></g><text x="564.14" y="640.00" font-size="23.88" fill="#000" textLength="28.72" lengthAdjust="spacingAndGlyphs">33</text><text x="649.14" y="640.00" font-size="23.88" fill="#000" textLength="28.72" lengthAdjust="spacingAndGlyphs">34</text><text x="734.14" y="640.00" font-size="23.88" fill="#000" textLength="28.72" lengthAdjust="spacingAndGlyphs">35</text><text x="818.14" y="640.00" font-size="23.88" fill="#000" textLength="28.72" lengthAdjust="spacingAndGlyphs">36</text><clipPath id="c3"><rect x="952.55" y="21.35" width="376.0" height="589.05"/></clipPath><g stroke="#b4b4b4" stroke-width="0.9" stroke-dasharray="3.2 1.4"><line x1="978.5" y1="21.35" x2="978.5" y2="610.4"/><line x1="1126.5" y1="21.35" x2="1126.5" y2="610.4"/><line x1="1274.5" y1="21.35" x2="1274.5" y2="610.4"/><line x1="952.55" y1="95.5" x2="1328.55" y2="95.5"/><line x1="952.55" y1="168.5" x2="1328.55" y2="168.5"/><line x1="952.55" y1="242.5" x2="1328.55" y2="242.5"/><line x1="952.55" y1="315.5" x2="1328.55" y2="315.5"/><line x1="952.55" y1="389.5" x2="1328.55" y2="389.5"/><line x1="952.55" y1="463.5" x2="1328.55" y2="463.5"/><line x1="952.55" y1="536.5" x2="1328.55" y2="536.5"/></g><g clip-path="url(#c3)"><polyline points="969.4,27.7 973.8,29.2 977.0,30.5 980.2,31.6 982.9,33.8 984.0,34.7 985.0,36.6 987.9,39.4 997.0,42.6 1004.9,45.5 1010.0,48.6 1015.0,51.6 1019.5,54.5 1021.4,57.5 1023.5,60.4 1026.1,63.4 1029.5,66.3 1031.9,69.3 1034.0,72.2 1036.5,75.1 1039.1,78.1 1041.9,81.0 1044.6,84.0 1047.1,86.9 1049.5,89.9 1051.2,92.8 1052.0,95.8 1052.9,98.7 1054.4,101.7 1055.8,104.6 1056.8,107.5 1057.8,110.5 1058.5,113.4 1059.3,116.4 1059.7,119.3 1061.1,122.3 1062.3,125.2 1063.2,128.2 1064.0,131.1 1065.0,134.0 1066.1,137.0 1067.2,139.9 1068.1,142.9 1068.9,145.8 1069.8,148.8 1070.7,151.7 1071.2,154.7 1071.8,157.6 1072.8,160.6 1073.8,163.5 1074.3,166.4 1074.9,169.4 1075.9,172.3 1076.7,175.3 1077.4,178.2 1077.7,181.2 1078.2,184.1 1078.9,187.1 1079.5,190.0 1079.9,192.9 1080.6,195.9 1080.6,198.8 1080.6,201.8 1081.4,204.7 1082.2,207.7 1082.2,210.6 1082.1,213.6 1082.4,216.5 1082.9,219.5 1083.5,222.4 1083.8,225.3 1083.6,228.3 1083.6,231.2 1084.1,234.2 1084.5,237.1 1084.7,240.1 1084.9,243.0 1085.1,246.0 1085.6,248.9 1085.8,251.8 1085.9,254.8 1086.5,257.7 1087.2,260.7 1087.3,263.6 1087.3,266.6 1087.5,269.5 1088.0,272.5 1088.5,275.4 1088.9,278.4 1088.9,281.3 1088.9,284.2 1089.2,287.2 1089.6,290.1 1090.0,293.1 1090.1,296.0 1090.3,299.0 1090.7,301.9 1090.7,304.9 1090.8,307.8 1091.1,310.7 1091.5,313.7 1092.0,316.6 1092.4,319.6 1092.1,322.5 1091.9,325.5 1092.4,328.4 1093.2,331.4 1093.5,334.3 1093.7,337.3 1093.9,340.2 1094.3,343.1 1094.7,346.1 1094.8,349.0 1095.0,352.0 1095.3,354.9 1095.3,357.9 1095.1,360.8 1095.4,363.8 1095.8,366.7 1096.4,369.6 1096.6,372.6 1096.1,375.5 1096.0,378.5 1096.5,381.4 1097.0,384.4 1097.5,387.3 1097.8,390.3 1098.0,393.2 1098.0,396.2 1098.0,399.1 1098.3,402.0 1098.8,405.0 1099.2,407.9 1099.5,410.9 1099.5,413.8 1099.4,416.8 1099.7,419.7 1100.3,422.7 1100.3,425.6 1100.0,428.5 1100.1,431.5 1100.7,434.4 1100.8,437.4 1100.7,440.3 1100.9,443.3 1100.9,446.2 1101.1,449.2 1101.6,452.1 1101.9,455.1 1102.2,458.0 1102.2,460.9 1102.2,463.9 1102.4,466.8 1102.8,469.8 1103.1,472.7 1103.0,475.7 1103.0,478.6 1102.9,481.6 1103.2,484.5 1103.8,487.4 1104.2,490.4 1104.6,493.3 1104.6,496.3 1104.4,499.2 1104.7,502.2 1105.0,505.1 1105.1,508.1 1105.3,511.0 1105.4,514.0 1105.5,516.9 1105.5,519.8 1105.4,522.8 1105.7,525.7 1106.0,528.7 1106.3,531.6 1106.4,534.6 1106.4,537.5 1106.7,540.5 1106.8,543.4 1107.0,546.3 1107.3,549.3 1107.4,552.2 1107.6,555.2 1108.2,558.1 1108.5,561.1 1108.2,564.0 1108.1,567.0 1108.5,569.9 1108.8,572.9 1109.0,575.8 1109.4,578.7 1109.5,581.7 1109.8,584.6 1110.2,587.6 1109.9,590.5 1109.9,593.5 1110.1,596.4 1110.1,599.4 1110.1,602.3 1110.2,605.2 1110.5,608.2 1111.3,611.1 1111.7,614.1 1111.4,617.0 1111.3,620.0 1111.6,622.9 1111.9,625.9" fill="none" stroke="#0000ff" stroke-width="2.6" stroke-linejoin="round"/><g fill="#0000ff"><circle cx="969.4" cy="27.7" r="6.05"/><circle cx="973.8" cy="29.2" r="6.05"/><circle cx="977.0" cy="30.5" r="6.05"/><circle cx="980.2" cy="31.6" r="6.05"/><circle cx="982.9" cy="33.8" r="6.05"/><circle cx="984.0" cy="34.7" r="6.05"/><circle cx="985.0" cy="36.6" r="6.05"/><circle cx="987.9" cy="39.4" r="6.05"/><circle cx="997.0" cy="42.6" r="6.05"/><circle cx="1004.9" cy="45.5" r="6.05"/><circle cx="1010.0" cy="48.6" r="6.05"/><circle cx="1015.0" cy="51.6" r="6.05"/><circle cx="1019.5" cy="54.5" r="6.05"/><circle cx="1021.4" cy="57.5" r="6.05"/><circle cx="1023.5" cy="60.4" r="6.05"/><circle cx="1026.1" cy="63.4" r="6.05"/><circle cx="1029.5" cy="66.3" r="6.05"/><circle cx="1031.9" cy="69.3" r="6.05"/><circle cx="1034.0" cy="72.2" r="6.05"/><circle cx="1036.5" cy="75.1" r="6.05"/><circle cx="1039.1" cy="78.1" r="6.05"/><circle cx="1041.9" cy="81.0" r="6.05"/><circle cx="1044.6" cy="84.0" r="6.05"/><circle cx="1047.1" cy="86.9" r="6.05"/><circle cx="1049.5" cy="89.9" r="6.05"/><circle cx="1051.2" cy="92.8" r="6.05"/><circle cx="1052.0" cy="95.8" r="6.05"/><circle cx="1052.9" cy="98.7" r="6.05"/><circle cx="1054.4" cy="101.7" r="6.05"/><circle cx="1055.8" cy="104.6" r="6.05"/><circle cx="1056.8" cy="107.5" r="6.05"/><circle cx="1057.8" cy="110.5" r="6.05"/><circle cx="1058.5" cy="113.4" r="6.05"/><circle cx="1059.3" cy="116.4" r="6.05"/><circle cx="1059.7" cy="119.3" r="6.05"/><circle cx="1061.1" cy="122.3" r="6.05"/><circle cx="1062.3" cy="125.2" r="6.05"/><circle cx="1063.2" cy="128.2" r="6.05"/><circle cx="1064.0" cy="131.1" r="6.05"/><circle cx="1065.0" cy="134.0" r="6.05"/><circle cx="1066.1" cy="137.0" r="6.05"/><circle cx="1067.2" cy="139.9" r="6.05"/><circle cx="1068.1" cy="142.9" r="6.05"/><circle cx="1068.9" cy="145.8" r="6.05"/><circle cx="1069.8" cy="148.8" r="6.05"/><circle cx="1070.7" cy="151.7" r="6.05"/><circle cx="1071.2" cy="154.7" r="6.05"/><circle cx="1071.8" cy="157.6" r="6.05"/><circle cx="1072.8" cy="160.6" r="6.05"/><circle cx="1073.8" cy="163.5" r="6.05"/><circle cx="1074.3" cy="166.4" r="6.05"/><circle cx="1074.9" cy="169.4" r="6.05"/><circle cx="1075.9" cy="172.3" r="6.05"/><circle cx="1076.7" cy="175.3" r="6.05"/><circle cx="1077.4" cy="178.2" r="6.05"/><circle cx="1077.7" cy="181.2" r="6.05"/><circle cx="1078.2" cy="184.1" r="6.05"/><circle cx="1078.9" cy="187.1" r="6.05"/><circle cx="1079.5" cy="190.0" r="6.05"/><circle cx="1079.9" cy="192.9" r="6.05"/><circle cx="1080.6" cy="195.9" r="6.05"/><circle cx="1080.6" cy="198.8" r="6.05"/><circle cx="1080.6" cy="201.8" r="6.05"/><circle cx="1081.4" cy="204.7" r="6.05"/><circle cx="1082.2" cy="207.7" r="6.05"/><circle cx="1082.2" cy="210.6" r="6.05"/><circle cx="1082.1" cy="213.6" r="6.05"/><circle cx="1082.4" cy="216.5" r="6.05"/><circle cx="1082.9" cy="219.5" r="6.05"/><circle cx="1083.5" cy="222.4" r="6.05"/><circle cx="1083.8" cy="225.3" r="6.05"/><circle cx="1083.6" cy="228.3" r="6.05"/><circle cx="1083.6" cy="231.2" r="6.05"/><circle cx="1084.1" cy="234.2" r="6.05"/><circle cx="1084.5" cy="237.1" r="6.05"/><circle cx="1084.7" cy="240.1" r="6.05"/><circle cx="1084.9" cy="243.0" r="6.05"/><circle cx="1085.1" cy="246.0" r="6.05"/><circle cx="1085.6" cy="248.9" r="6.05"/><circle cx="1085.8" cy="251.8" r="6.05"/><circle cx="1085.9" cy="254.8" r="6.05"/><circle cx="1086.5" cy="257.7" r="6.05"/><circle cx="1087.2" cy="260.7" r="6.05"/><circle cx="1087.3" cy="263.6" r="6.05"/><circle cx="1087.3" cy="266.6" r="6.05"/><circle cx="1087.5" cy="269.5" r="6.05"/><circle cx="1088.0" cy="272.5" r="6.05"/><circle cx="1088.5" cy="275.4" r="6.05"/><circle cx="1088.9" cy="278.4" r="6.05"/><circle cx="1088.9" cy="281.3" r="6.05"/><circle cx="1088.9" cy="284.2" r="6.05"/><circle cx="1089.2" cy="287.2" r="6.05"/><circle cx="1089.6" cy="290.1" r="6.05"/><circle cx="1090.0" cy="293.1" r="6.05"/><circle cx="1090.1" cy="296.0" r="6.05"/><circle cx="1090.3" cy="299.0" r="6.05"/><circle cx="1090.7" cy="301.9" r="6.05"/><circle cx="1090.7" cy="304.9" r="6.05"/><circle cx="1090.8" cy="307.8" r="6.05"/><circle cx="1091.1" cy="310.7" r="6.05"/><circle cx="1091.5" cy="313.7" r="6.05"/><circle cx="1092.0" cy="316.6" r="6.05"/><circle cx="1092.4" cy="319.6" r="6.05"/><circle cx="1092.1" cy="322.5" r="6.05"/><circle cx="1091.9" cy="325.5" r="6.05"/><circle cx="1092.4" cy="328.4" r="6.05"/><circle cx="1093.2" cy="331.4" r="6.05"/><circle cx="1093.5" cy="334.3" r="6.05"/><circle cx="1093.7" cy="337.3" r="6.05"/><circle cx="1093.9" cy="340.2" r="6.05"/><circle cx="1094.3" cy="343.1" r="6.05"/><circle cx="1094.7" cy="346.1" r="6.05"/><circle cx="1094.8" cy="349.0" r="6.05"/><circle cx="1095.0" cy="352.0" r="6.05"/><circle cx="1095.3" cy="354.9" r="6.05"/><circle cx="1095.3" cy="357.9" r="6.05"/><circle cx="1095.1" cy="360.8" r="6.05"/><circle cx="1095.4" cy="363.8" r="6.05"/><circle cx="1095.8" cy="366.7" r="6.05"/><circle cx="1096.4" cy="369.6" r="6.05"/><circle cx="1096.6" cy="372.6" r="6.05"/><circle cx="1096.1" cy="375.5" r="6.05"/><circle cx="1096.0" cy="378.5" r="6.05"/><circle cx="1096.5" cy="381.4" r="6.05"/><circle cx="1097.0" cy="384.4" r="6.05"/><circle cx="1097.5" cy="387.3" r="6.05"/><circle cx="1097.8" cy="390.3" r="6.05"/><circle cx="1098.0" cy="393.2" r="6.05"/><circle cx="1098.0" cy="396.2" r="6.05"/><circle cx="1098.0" cy="399.1" r="6.05"/><circle cx="1098.3" cy="402.0" r="6.05"/><circle cx="1098.8" cy="405.0" r="6.05"/><circle cx="1099.2" cy="407.9" r="6.05"/><circle cx="1099.5" cy="410.9" r="6.05"/><circle cx="1099.5" cy="413.8" r="6.05"/><circle cx="1099.4" cy="416.8" r="6.05"/><circle cx="1099.7" cy="419.7" r="6.05"/><circle cx="1100.3" cy="422.7" r="6.05"/><circle cx="1100.3" cy="425.6" r="6.05"/><circle cx="1100.0" cy="428.5" r="6.05"/><circle cx="1100.1" cy="431.5" r="6.05"/><circle cx="1100.7" cy="434.4" r="6.05"/><circle cx="1100.8" cy="437.4" r="6.05"/><circle cx="1100.7" cy="440.3" r="6.05"/><circle cx="1100.9" cy="443.3" r="6.05"/><circle cx="1100.9" cy="446.2" r="6.05"/><circle cx="1101.1" cy="449.2" r="6.05"/><circle cx="1101.6" cy="452.1" r="6.05"/><circle cx="1101.9" cy="455.1" r="6.05"/><circle cx="1102.2" cy="458.0" r="6.05"/><circle cx="1102.2" cy="460.9" r="6.05"/><circle cx="1102.2" cy="463.9" r="6.05"/><circle cx="1102.4" cy="466.8" r="6.05"/><circle cx="1102.8" cy="469.8" r="6.05"/><circle cx="1103.1" cy="472.7" r="6.05"/><circle cx="1103.0" cy="475.7" r="6.05"/><circle cx="1103.0" cy="478.6" r="6.05"/><circle cx="1102.9" cy="481.6" r="6.05"/><circle cx="1103.2" cy="484.5" r="6.05"/><circle cx="1103.8" cy="487.4" r="6.05"/><circle cx="1104.2" cy="490.4" r="6.05"/><circle cx="1104.6" cy="493.3" r="6.05"/><circle cx="1104.6" cy="496.3" r="6.05"/><circle cx="1104.4" cy="499.2" r="6.05"/><circle cx="1104.7" cy="502.2" r="6.05"/><circle cx="1105.0" cy="505.1" r="6.05"/><circle cx="1105.1" cy="508.1" r="6.05"/><circle cx="1105.3" cy="511.0" r="6.05"/><circle cx="1105.4" cy="514.0" r="6.05"/><circle cx="1105.5" cy="516.9" r="6.05"/><circle cx="1105.5" cy="519.8" r="6.05"/><circle cx="1105.4" cy="522.8" r="6.05"/><circle cx="1105.7" cy="525.7" r="6.05"/><circle cx="1106.0" cy="528.7" r="6.05"/><circle cx="1106.3" cy="531.6" r="6.05"/><circle cx="1106.4" cy="534.6" r="6.05"/><circle cx="1106.4" cy="537.5" r="6.05"/><circle cx="1106.7" cy="540.5" r="6.05"/><circle cx="1106.8" cy="543.4" r="6.05"/><circle cx="1107.0" cy="546.3" r="6.05"/><circle cx="1107.3" cy="549.3" r="6.05"/><circle cx="1107.4" cy="552.2" r="6.05"/><circle cx="1107.6" cy="555.2" r="6.05"/><circle cx="1108.2" cy="558.1" r="6.05"/><circle cx="1108.5" cy="561.1" r="6.05"/><circle cx="1108.2" cy="564.0" r="6.05"/><circle cx="1108.1" cy="567.0" r="6.05"/><circle cx="1108.5" cy="569.9" r="6.05"/><circle cx="1108.8" cy="572.9" r="6.05"/><circle cx="1109.0" cy="575.8" r="6.05"/><circle cx="1109.4" cy="578.7" r="6.05"/><circle cx="1109.5" cy="581.7" r="6.05"/><circle cx="1109.8" cy="584.6" r="6.05"/><circle cx="1110.2" cy="587.6" r="6.05"/><circle cx="1109.9" cy="590.5" r="6.05"/><circle cx="1109.9" cy="593.5" r="6.05"/><circle cx="1110.1" cy="596.4" r="6.05"/><circle cx="1110.1" cy="599.4" r="6.05"/><circle cx="1110.1" cy="602.3" r="6.05"/><circle cx="1110.2" cy="605.2" r="6.05"/><circle cx="1110.5" cy="608.2" r="6.05"/><circle cx="1111.3" cy="611.1" r="6.05"/><circle cx="1111.7" cy="614.1" r="6.05"/><circle cx="1111.4" cy="617.0" r="6.05"/></g><polyline points="1011.3,21.4 1011.3,24.3 1011.3,27.3 1011.3,30.2 1011.3,33.2 1011.6,36.1 1012.9,39.1 1015.0,43.5 1018.8,50.8 1021.8,58.2 1024.5,65.6 1029.0,72.9 1033.0,80.3 1037.5,87.7 1041.7,95.0 1050.2,109.8 1057.1,124.5 1060.0,139.2 1064.7,153.9 1068.6,168.7 1077.2,205.5 1085.0,242.3 1091.2,315.9 1097.3,389.5 1102.1,463.1 1107.2,536.8 1111.8,610.4 1120.0,757.6" fill="none" stroke="#008000" stroke-width="2.6" stroke-linejoin="round"/><g fill="#008000"><circle cx="1011.3" cy="21.4" r="6.05"/><circle cx="1011.3" cy="24.3" r="6.05"/><circle cx="1011.3" cy="27.3" r="6.05"/><circle cx="1011.3" cy="30.2" r="6.05"/><circle cx="1011.3" cy="33.2" r="6.05"/><circle cx="1011.6" cy="36.1" r="6.05"/><circle cx="1012.9" cy="39.1" r="6.05"/><circle cx="1015.0" cy="43.5" r="6.05"/><circle cx="1018.8" cy="50.8" r="6.05"/><circle cx="1021.8" cy="58.2" r="6.05"/><circle cx="1024.5" cy="65.6" r="6.05"/><circle cx="1029.0" cy="72.9" r="6.05"/><circle cx="1033.0" cy="80.3" r="6.05"/><circle cx="1037.5" cy="87.7" r="6.05"/><circle cx="1041.7" cy="95.0" r="6.05"/><circle cx="1050.2" cy="109.8" r="6.05"/><circle cx="1057.1" cy="124.5" r="6.05"/><circle cx="1060.0" cy="139.2" r="6.05"/><circle cx="1064.7" cy="153.9" r="6.05"/><circle cx="1068.6" cy="168.7" r="6.05"/><circle cx="1077.2" cy="205.5" r="6.05"/><circle cx="1085.0" cy="242.3" r="6.05"/><circle cx="1091.2" cy="315.9" r="6.05"/><circle cx="1097.3" cy="389.5" r="6.05"/><circle cx="1102.1" cy="463.1" r="6.05"/><circle cx="1107.2" cy="536.8" r="6.05"/><circle cx="1111.8" cy="610.4" r="6.05"/></g><polyline points="1006.9,21.4 1006.9,24.3 1006.9,27.3 1006.9,30.2 1006.9,33.2 1007.1,36.1 1007.7,39.1 1009.7,43.5 1012.9,50.8 1015.5,58.2 1018.1,65.6 1022.1,72.9 1026.1,80.3 1030.3,87.7 1034.1,95.0 1043.5,109.8 1052.0,124.5 1060.4,139.2 1066.8,153.9 1073.2,168.7 1082.7,205.5 1086.4,242.3 1091.4,315.9 1096.7,389.5 1101.6,463.1 1106.5,536.8 1111.2,610.4 1120.0,757.6" fill="none" stroke="#ff0000" stroke-width="2.6" stroke-linejoin="round"/><g fill="#ff0000"><circle cx="1006.9" cy="21.4" r="6.05"/><circle cx="1006.9" cy="24.3" r="6.05"/><circle cx="1006.9" cy="27.3" r="6.05"/><circle cx="1006.9" cy="30.2" r="6.05"/><circle cx="1006.9" cy="33.2" r="6.05"/><circle cx="1007.1" cy="36.1" r="6.05"/><circle cx="1007.7" cy="39.1" r="6.05"/><circle cx="1009.7" cy="43.5" r="6.05"/><circle cx="1012.9" cy="50.8" r="6.05"/><circle cx="1015.5" cy="58.2" r="6.05"/><circle cx="1018.1" cy="65.6" r="6.05"/><circle cx="1022.1" cy="72.9" r="6.05"/><circle cx="1026.1" cy="80.3" r="6.05"/><circle cx="1030.3" cy="87.7" r="6.05"/><circle cx="1034.1" cy="95.0" r="6.05"/><circle cx="1043.5" cy="109.8" r="6.05"/><circle cx="1052.0" cy="124.5" r="6.05"/><circle cx="1060.4" cy="139.2" r="6.05"/><circle cx="1066.8" cy="153.9" r="6.05"/><circle cx="1073.2" cy="168.7" r="6.05"/><circle cx="1082.7" cy="205.5" r="6.05"/><circle cx="1086.4" cy="242.3" r="6.05"/><circle cx="1091.4" cy="315.9" r="6.05"/><circle cx="1096.7" cy="389.5" r="6.05"/><circle cx="1101.6" cy="463.1" r="6.05"/><circle cx="1106.5" cy="536.8" r="6.05"/><circle cx="1111.2" cy="610.4" r="6.05"/></g><polyline points="1010.8,22.1 1010.8,23.7 1010.8,25.3 1010.8,27.0 1010.8,28.9 1010.8,30.9 1010.8,33.1 1011.0,35.5 1012.3,38.2 1013.6,41.2 1015.1,44.7 1016.8,48.6 1019.3,53.2 1021.8,58.5 1024.9,64.7 1032.4,72.1 1038.3,80.7 1044.7,91.2 1051.8,103.6 1057.6,118.3 1064.7,136.0 1071.4,157.3 1077.6,182.9 1082.2,213.8 1086.7,250.9 1090.6,295.4 1094.2,349.0 1099.5,413.1 1103.4,489.8 1109.4,581.2 1116.0,689.8" fill="none" stroke="#ff00ff" stroke-width="2.6" stroke-linejoin="round"/><g fill="#ff00ff"><circle cx="1010.8" cy="22.1" r="6.05"/><circle cx="1010.8" cy="23.7" r="6.05"/><circle cx="1010.8" cy="25.3" r="6.05"/><circle cx="1010.8" cy="27.0" r="6.05"/><circle cx="1010.8" cy="28.9" r="6.05"/><circle cx="1010.8" cy="30.9" r="6.05"/><circle cx="1010.8" cy="33.1" r="6.05"/><circle cx="1011.0" cy="35.5" r="6.05"/><circle cx="1012.3" cy="38.2" r="6.05"/><circle cx="1013.6" cy="41.2" r="6.05"/><circle cx="1015.1" cy="44.7" r="6.05"/><circle cx="1016.8" cy="48.6" r="6.05"/><circle cx="1019.3" cy="53.2" r="6.05"/><circle cx="1021.8" cy="58.5" r="6.05"/><circle cx="1024.9" cy="64.7" r="6.05"/><circle cx="1032.4" cy="72.1" r="6.05"/><circle cx="1038.3" cy="80.7" r="6.05"/><circle cx="1044.7" cy="91.2" r="6.05"/><circle cx="1051.8" cy="103.6" r="6.05"/><circle cx="1057.6" cy="118.3" r="6.05"/><circle cx="1064.7" cy="136.0" r="6.05"/><circle cx="1071.4" cy="157.3" r="6.05"/><circle cx="1077.6" cy="182.9" r="6.05"/><circle cx="1082.2" cy="213.8" r="6.05"/><circle cx="1086.7" cy="250.9" r="6.05"/><circle cx="1090.6" cy="295.4" r="6.05"/><circle cx="1094.2" cy="349.0" r="6.05"/><circle cx="1099.5" cy="413.1" r="6.05"/><circle cx="1103.4" cy="489.8" r="6.05"/><circle cx="1109.4" cy="581.2" r="6.05"/></g></g><rect x="952.55" y="21.35" width="376.0" height="589.05" fill="none" stroke="#000" stroke-width="1.34"/><g stroke="#000" stroke-width="1.39"><line x1="978.5" y1="610.4" x2="978.5" y2="616.9"/><line x1="1126.5" y1="610.4" x2="1126.5" y2="616.9"/><line x1="1274.5" y1="610.4" x2="1274.5" y2="616.9"/><line x1="946.05" y1="21.35" x2="952.55" y2="21.35"/><line x1="946.05" y1="95.5" x2="952.55" y2="95.5"/><line x1="946.05" y1="168.5" x2="952.55" y2="168.5"/><line x1="946.05" y1="242.5" x2="952.55" y2="242.5"/><line x1="946.05" y1="315.5" x2="952.55" y2="315.5"/><line x1="946.05" y1="389.5" x2="952.55" y2="389.5"/><line x1="946.05" y1="463.5" x2="952.55" y2="463.5"/><line x1="946.05" y1="536.5" x2="952.55" y2="536.5"/><line x1="946.05" y1="610.4" x2="952.55" y2="610.4"/></g><text x="949.78" y="640.00" font-size="23.88" fill="#000" textLength="57.44" lengthAdjust="spacingAndGlyphs">1020</text><text x="1097.78" y="640.00" font-size="23.88" fill="#000" textLength="57.44" lengthAdjust="spacingAndGlyphs">1030</text><text x="1245.78" y="640.00" font-size="23.88" fill="#000" textLength="57.44" lengthAdjust="spacingAndGlyphs">1040</text><text x="72.84" y="29.90" font-size="23.88" fill="#000" textLength="14.36" lengthAdjust="spacingAndGlyphs">0</text><text x="58.48" y="104.00" font-size="23.88" fill="#000" textLength="28.72" lengthAdjust="spacingAndGlyphs">50</text><text x="44.12" y="177.00" font-size="23.88" fill="#000" textLength="43.08" lengthAdjust="spacingAndGlyphs">100</text><text x="44.12" y="251.00" font-size="23.88" fill="#000" textLength="43.08" lengthAdjust="spacingAndGlyphs">150</text><text x="44.12" y="324.00" font-size="23.88" fill="#000" textLength="43.08" lengthAdjust="spacingAndGlyphs">200</text><text x="44.12" y="398.00" font-size="23.88" fill="#000" textLength="43.08" lengthAdjust="spacingAndGlyphs">250</text><text x="44.12" y="472.00" font-size="23.88" fill="#000" textLength="43.08" lengthAdjust="spacingAndGlyphs">300</text><text x="44.12" y="545.00" font-size="23.88" fill="#000" textLength="43.08" lengthAdjust="spacingAndGlyphs">350</text><text x="44.12" y="618.90" font-size="23.88" fill="#000" textLength="43.08" lengthAdjust="spacingAndGlyphs">400</text><text x="168.53" y="673.90" font-size="25.72" font-weight="bold" fill="#000" textLength="174.86" lengthAdjust="spacingAndGlyphs">Temperature</text><text x="351.85" y="673.90" font-size="25.72" font-weight="bold" fill="#000" textLength="52.22" lengthAdjust="spacingAndGlyphs">(˚C)</text><text x="621.83" y="670.40" font-size="25.72" font-weight="bold" fill="#000" textLength="103.69" lengthAdjust="spacingAndGlyphs">Salinity</text><text x="733.98" y="670.40" font-size="25.72" font-weight="bold" fill="#000" textLength="71.40" lengthAdjust="spacingAndGlyphs">(psu)</text><text x="1088.48" y="670.40" font-size="25.72" font-weight="bold" fill="#000" textLength="104.24" lengthAdjust="spacingAndGlyphs">Density</text><g transform="translate(29.60,315.90) rotate(-90)"><text x="-69.51" y="0.00" font-size="25.72" font-weight="bold" fill="#000" textLength="83.00" lengthAdjust="spacingAndGlyphs">Depth</text><text x="21.95" y="0.00" font-size="25.72" font-weight="bold" fill="#000" textLength="47.55" lengthAdjust="spacingAndGlyphs">(m)</text></g><text x="348.60" y="695.90" font-size="18.37" font-style="italic" fill="#000" textLength="55.53" lengthAdjust="spacingAndGlyphs">Ocean</text><text x="409.65" y="695.90" font-size="18.37" font-style="italic" fill="#000" textLength="41.18" lengthAdjust="spacingAndGlyphs">Heat</text><text x="456.35" y="695.90" font-size="18.37" font-style="italic" fill="#000" textLength="69.04" lengthAdjust="spacingAndGlyphs">Content</text><text x="530.91" y="695.90" font-size="18.37" font-style="italic" fill="#000" textLength="86.61" lengthAdjust="spacingAndGlyphs">(kJ/cm^2)</text><text x="623.04" y="695.90" font-size="18.37" font-style="italic" fill="#000" textLength="6.26" lengthAdjust="spacingAndGlyphs">-</text><text x="634.82" y="695.90" font-size="18.37" font-style="italic" fill="#000" textLength="46.50" lengthAdjust="spacingAndGlyphs">Argo:</text><text x="686.84" y="695.90" font-size="18.37" font-style="italic" fill="#000" textLength="77.31" lengthAdjust="spacingAndGlyphs">54.8098,</text><text x="775.19" y="695.90" font-size="18.37" font-style="italic" fill="#000" textLength="63.18" lengthAdjust="spacingAndGlyphs">RTOFS:</text><text x="843.89" y="695.90" font-size="18.37" font-style="italic" fill="#000" textLength="77.31" lengthAdjust="spacingAndGlyphs">63.8260,</text><text x="932.23" y="695.90" font-size="18.37" font-style="italic" fill="#000" textLength="50.43" lengthAdjust="spacingAndGlyphs">ESPC:</text><text x="988.18" y="695.90" font-size="18.37" font-style="italic" fill="#000" textLength="77.31" lengthAdjust="spacingAndGlyphs">63.8636,</text><text x="1076.52" y="695.90" font-size="18.37" font-style="italic" fill="#000" textLength="69.92" lengthAdjust="spacingAndGlyphs">CMEMS:</text><text x="1151.96" y="695.90" font-size="18.37" font-style="italic" fill="#000" textLength="77.31" lengthAdjust="spacingAndGlyphs">62.5035,</text><text x="1450.00" y="41.00" font-size="27.55" font-weight="bold" fill="#000" textLength="69.53" lengthAdjust="spacingAndGlyphs">Argo</text><text x="1528.59" y="41.00" font-size="27.55" font-weight="bold" fill="#000" textLength="148.65" lengthAdjust="spacingAndGlyphs">#4903466</text><text x="1450.00" y="70.90" font-size="27.55" font-weight="bold" fill="#000" textLength="94.13" lengthAdjust="spacingAndGlyphs">ARGO:</text><text x="1553.19" y="70.90" font-size="27.55" font-weight="bold" fill="#000" textLength="286.10" lengthAdjust="spacingAndGlyphs">2025-08-21T13:47Z</text><text x="1450.00" y="100.80" font-size="27.55" font-weight="bold" fill="#000" textLength="74.74" lengthAdjust="spacingAndGlyphs">ESPC</text><text x="1533.80" y="100.80" font-size="27.55" font-weight="bold" fill="#000" textLength="10.41" lengthAdjust="spacingAndGlyphs">:</text><text x="1553.28" y="100.80" font-size="27.55" font-weight="bold" fill="#000" textLength="286.10" lengthAdjust="spacingAndGlyphs">2025-08-21T15:00Z</text><text x="1450.00" y="130.70" font-size="27.55" font-weight="bold" fill="#000" textLength="105.74" lengthAdjust="spacingAndGlyphs">RTOFS:</text><text x="1564.80" y="130.70" font-size="27.55" font-weight="bold" fill="#000" textLength="286.10" lengthAdjust="spacingAndGlyphs">2025-08-21T12:00Z</text><text x="1450.00" y="160.60" font-size="27.55" font-weight="bold" fill="#000" textLength="117.89" lengthAdjust="spacingAndGlyphs">CMEMS:</text><text x="1576.96" y="160.60" font-size="27.55" font-weight="bold" fill="#000" textLength="286.10" lengthAdjust="spacingAndGlyphs">2025-08-21T12:00Z</text><rect x="1405.3" y="488.4" width="511.8" height="127" rx="3.5" ry="3.5" fill="#fff" stroke="#cfcfcf" stroke-width="1.7"/><line x1="1412.2" y1="505.4" x2="1456.4" y2="505.4" stroke="#0000ff" stroke-width="2.6"/><circle cx="1434.3" cy="505.4" r="6.05" fill="#0000ff"/><text x="1471.00" y="512.30" font-size="22.04" fill="#000" textLength="92.77" lengthAdjust="spacingAndGlyphs">4903466</text><text x="1570.39" y="512.30" font-size="22.04" fill="#000" textLength="81.90" lengthAdjust="spacingAndGlyphs">[-85.31,</text><text x="1658.91" y="512.30" font-size="22.04" fill="#000" textLength="67.76" lengthAdjust="spacingAndGlyphs">25.23]</text><line x1="1412.2" y1="535.6" x2="1456.4" y2="535.6" stroke="#008000" stroke-width="2.6"/><circle cx="1434.3" cy="535.6" r="6.05" fill="#008000"/><text x="1471.00" y="542.50" font-size="22.04" fill="#000" textLength="53.49" lengthAdjust="spacingAndGlyphs">ESPC</text><text x="1531.11" y="542.50" font-size="22.04" fill="#000" textLength="81.90" lengthAdjust="spacingAndGlyphs">[-85.28,</text><text x="1619.63" y="542.50" font-size="22.04" fill="#000" textLength="67.76" lengthAdjust="spacingAndGlyphs">25.24]</text><line x1="1412.2" y1="565.8" x2="1456.4" y2="565.8" stroke="#ff0000" stroke-width="2.6"/><circle cx="1434.3" cy="565.8" r="6.05" fill="#ff0000"/><text x="1471.00" y="572.70" font-size="22.04" fill="#000" textLength="66.91" lengthAdjust="spacingAndGlyphs">RTOFS</text><text x="1544.54" y="572.70" font-size="22.04" fill="#000" textLength="81.90" lengthAdjust="spacingAndGlyphs">[-85.28,</text><text x="1633.05" y="572.70" font-size="22.04" fill="#000" textLength="67.76" lengthAdjust="spacingAndGlyphs">25.22]</text><line x1="1412.2" y1="596.0" x2="1456.4" y2="596.0" stroke="#ff00ff" stroke-width="2.6"/><circle cx="1434.3" cy="596.0" r="6.05" fill="#ff00ff"/><text x="1471.00" y="602.90" font-size="22.04" fill="#000" textLength="116.02" lengthAdjust="spacingAndGlyphs">Copernicus</text><text x="1593.64" y="602.90" font-size="22.04" fill="#000" textLength="240.93" lengthAdjust="spacingAndGlyphs">[-85.33000183105469,</text><text x="1841.19" y="602.90" font-size="22.04" fill="#000" textLength="67.76" lengthAdjust="spacingAndGlyphs">25.25]</text><clipPath id="cm"><rect x="1514.1" y="199.2" width="294.5" height="233.05"/></clipPath><rect x="1514.1" y="199.2" width="294.5" height="233.05" fill="#97b6e1"/><polyline points="1514.1,432.25 1514.1,199.2 1786,199.2" fill="none" stroke="#bdb6ab" stroke-width="0.8"/><g clip-path="url(#cm)"><rect x="1514.1" y="199.2" width="294.5" height="233.05" fill="#97b6e1"/><g fill="#d2b48c" stroke="#000" stroke-width="1.7" stroke-linejoin="round"><polygon points="1508.0,193.0 1787.6,193.0 1786.4,199.2 1780.9,203.8 1775.4,208.1 1768.9,213.6 1764.5,219.1 1761.2,226.8 1760.1,232.2 1760.1,238.8 1761.7,247.6 1765.6,257.4 1767.1,262.0 1770.4,269.7 1772.6,276.2 1774.8,282.8 1777.0,289.4 1779.1,296.0 1779.7,303.6 1778.6,311.3 1777.0,317.9 1774.8,321.7 1770.4,322.8 1767.1,322.2 1764.9,319.0 1761.6,315.7 1756.1,311.3 1754.0,305.8 1749.6,301.4 1746.3,293.8 1743.5,287.2 1740.3,280.6 1742.3,274.0 1743.3,267.4 1740.6,262.7 1736.0,260.7 1731.6,254.1 1727.2,248.7 1722.9,245.9 1718.5,247.0 1714.1,252.0 1709.7,254.7 1706.4,253.0 1704.2,249.8 1701.0,243.2 1694.4,240.5 1690.0,239.6 1686.3,241.0 1679.3,242.5 1672.2,242.7 1665.2,243.6 1658.2,244.1 1651.5,243.0 1651.2,246.0 1651.6,250.0 1650.2,254.5 1651.6,258.0 1654.7,261.7 1648.4,265.9 1645.5,261.0 1642.8,257.5 1639.9,261.0 1634.3,263.1 1628.7,263.8 1625.9,261.7 1621.7,258.9 1622.4,254.7 1618.2,253.3 1614.7,250.8 1611.2,251.9 1609.0,255.4 1604.1,255.0 1599.2,253.3 1592.1,251.7 1586.7,252.2 1582.3,253.6 1577.9,255.8 1573.5,258.5 1568.0,262.9 1564.8,266.2 1558.2,269.4 1551.6,273.8 1545.0,279.2 1540.7,285.8 1538.5,292.4 1539.0,300.0 1540.7,308.8 1539.6,314.3 1537.4,319.8 1534.6,328.5 1532.6,336.2 1531.6,345.0 1531.0,352.0 1530.1,361.5 1530.8,370.4 1533.7,377.8 1536.7,383.7 1540.4,392.5 1545.5,398.4 1550.0,404.3 1552.2,411.7 1557.3,419.0 1564.0,421.2 1569.9,422.7 1574.3,426.4 1578.0,430.1 1584.6,427.1 1593.5,424.9 1601.6,422.9 1605.9,421.6 1612.8,421.1 1619.7,419.1 1625.6,415.2 1629.5,412.3 1630.5,407.3 1632.9,403.4 1633.4,397.5 1632.9,392.6 1634.4,387.7 1638.3,384.7 1644.2,382.8 1651.1,381.8 1659.0,379.8 1665.8,377.9 1672.7,378.8 1677.6,379.8 1681.1,377.9 1684.5,379.8 1686.0,384.7 1683.5,390.6 1678.6,395.6 1675.7,400.5 1675.2,406.4 1674.7,412.3 1673.2,419.1 1671.3,427.0 1670.3,434.0 1670.3,439.0 1508.0,439.0"/><polygon points="1710.3,374.1 1717.7,367.4 1723.6,362.3 1732.4,357.9 1744.2,355.6 1753.1,354.9 1761.9,354.2 1770.8,353.4 1779.6,356.4 1788.5,361.5 1797.3,364.5 1810.0,366.9 1810.0,390.2 1803.2,386.6 1800.2,380.7 1795.8,377.8 1788.5,377.0 1781.1,374.1 1773.7,370.4 1766.3,369.6 1759.0,370.4 1753.1,368.2 1757.5,365.2 1753.1,362.3 1744.2,362.3 1738.3,363.7 1729.5,368.2 1722.1,371.1 1717.7,374.1"/><ellipse cx="1739.1" cy="376.8" rx="3.3" ry="2.9" stroke-width="3.1"/><ellipse cx="1806.3" cy="426.8" rx="3.4" ry="2.5" stroke-width="1.8"/><polygon points="1810,320.5 1806,323.5 1802.3,331 1804.5,335.8 1810,337.8" stroke-width="2.6"/><ellipse cx="1683.8" cy="395.8" rx="1.5" ry="2.9" transform="rotate(35 1683.8 395.8)" stroke-width="2.2"/></g><polygon points="1536.5,319.5 1534.8,328.5 1533,336.2 1532.2,343 1530.4,343 1530.2,335 1531.0,326 1532.8,320.5" fill="#3f4c63" stroke="#000" stroke-width="1.3"/><polygon points="1633.3,244.8 1637.1,241.7 1641.3,243.4 1639.9,246.6 1635,246.6" fill="#97b6e1" stroke="#000" stroke-width="1.5" stroke-linejoin="round"/><polygon points="1611,422.3 1615,420.3 1622.3,420.6 1622.6,423.8 1617,425.4 1612,424.8" fill="#97b6e1" stroke="#000" stroke-width="1.5" stroke-linejoin="round"/><polygon points="1666.8,237.2 1669.3,237.2 1669.2,242.6 1667,242.6" fill="#97b6e1" stroke="#000" stroke-width="1.6"/><polygon points="1768.7,293.3 1771.8,296.5 1768.7,299.9 1765.6,296.5" fill="#b4b4b4"/><g fill="none" stroke="#000" stroke-linecap="round" stroke-linejoin="round"><polyline points="1563.0,266.5 1556.0,270.0 1549.0,275.0 1543.5,280.0 1539.5,286.0 1537.5,292.5 1537.8,300.0 1539.0,308.0 1538.5,313.0" stroke-width="3.02"/><polyline points="1547.0,268.5 1552.5,268.5" stroke-width="3.24"/><polyline points="1549.0,270.2 1541.5,277.5 1536.8,283.5 1533.6,290.5 1535.0,297.5 1536.6,305.0 1538.0,311.0" stroke-width="2.59"/><polyline points="1569.8,258.2 1571.6,254.5 1573.6,251.8" stroke-width="4.03"/><polyline points="1585.7,250.2 1585.9,251.5" stroke-width="2.16"/><polyline points="1601.0,254.5 1606.0,256.0 1609.0,256.2" stroke-width="2.16"/><polyline points="1611.5,252.5 1614.7,251.5 1618.0,253.5" stroke-width="2.30"/><polyline points="1622.0,256.0 1623.0,259.5 1627.0,262.5 1631.0,264.0 1636.0,263.2 1640.5,261.0 1643.0,258.0" stroke-width="3.17"/><polyline points="1645.8,243.8 1647.4,248.0 1648.2,252.0 1647.2,255.5" stroke-width="5.18"/><polyline points="1655.7,246.3 1657.4,249.5 1655.6,253.0 1653.2,255.8" stroke-width="1.87"/><polyline points="1643.8,256.5 1648.0,262.3 1648.4,265.3" stroke-width="1.44"/><polyline points="1648.0,255.0 1652.5,259.5 1654.8,261.6" stroke-width="1.44"/><polyline points="1648.5,262.0 1651.0,264.5 1654.0,262.0" stroke-width="2.02"/><polyline points="1648.0,242.5 1656.0,244.3 1664.0,244.1 1672.0,243.0 1680.0,242.8 1687.0,241.5" stroke-width="2.16"/><polyline points="1690.0,240.2 1695.0,241.3 1700.5,243.5" stroke-width="1.87"/><polyline points="1703.5,249.0 1706.0,253.0 1709.7,254.9 1713.5,252.6" stroke-width="1.87"/><polyline points="1716.5,248.5 1719.5,246.4 1723.0,245.9 1727.0,248.5" stroke-width="1.73"/><polyline points="1731.5,254.0 1735.5,260.0 1740.0,262.6 1743.0,267.0" stroke-width="1.87"/><polyline points="1742.3,275.0 1741.6,280.5 1744.2,286.0 1745.6,289.0" stroke-width="3.74"/><polyline points="1749.2,296.5 1751.5,301.5 1754.3,305.0" stroke-width="3.60"/><polyline points="1756.0,311.5 1761.5,315.8 1765.0,319.2 1767.5,322.4 1771.0,322.9 1775.0,321.4" stroke-width="2.59"/><polyline points="1764.5,321.5 1768.5,324.5 1773.5,324.0 1777.0,320.0" stroke-width="2.59"/><polyline points="1775.2,325.0 1769.5,329.6 1762.5,331.9" stroke-width="2.59"/><polyline points="1762.5,331.9 1755.0,333.0 1750.1,334.1" stroke-width="1.94"/><polyline points="1767.0,215.0 1764.0,220.0 1761.3,227.0 1760.3,232.0" stroke-width="2.74"/><polyline points="1784.8,201.0 1779.0,205.3 1773.0,209.8 1768.6,214.0" stroke-width="2.52"/><polyline points="1770.6,268.5 1772.6,275.5" stroke-width="2.38"/><polyline points="1778.2,311.0 1776.6,318.5" stroke-width="2.30"/><polyline points="1534.0,377.0 1536.6,382.3" stroke-width="2.45"/><polyline points="1673.5,406.0 1674.3,410.0 1673.5,414.0" stroke-width="3.02"/><polyline points="1664.5,423.0 1667.5,421.0 1668.3,426.0 1668.6,432.0" stroke-width="3.24"/><polyline points="1661.0,426.5 1664.5,423.5" stroke-width="1.87"/><polyline points="1676.5,379.6 1681.0,378.2 1684.5,380.0 1685.8,384.5" stroke-width="1.87"/><polyline points="1762.0,352.6 1771.0,351.7 1780.0,354.3 1789.0,359.3 1798.0,362.3 1809.0,364.3" stroke-width="2.74"/><polyline points="1745.0,362.6 1753.0,362.5 1756.5,365.0 1753.5,367.8 1759.0,370.2 1766.0,369.5" stroke-width="2.23"/><polyline points="1787.0,385.1 1797.0,390.0 1808.6,394.6" stroke-width="1.66"/><polyline points="1798.0,380.0 1801.5,384.0 1804.0,387.5" stroke-width="1.87"/><polyline points="1744.2,379.4 1753.0,377.9 1762.0,377.2" stroke-width="1.66"/><polyline points="1728.5,372.5 1734.0,374.0" stroke-width="1.01"/><polyline points="1739.5,368.5 1742.5,370.5" stroke-width="1.01"/><polyline points="1711.0,374.2 1716.5,373.6" stroke-width="2.45"/><polyline points="1718.0,367.3 1724.0,362.3 1732.5,358.0 1744.0,355.7 1753.0,355.0 1762.0,354.3" stroke-width="1.80"/><polyline points="1793.8,299.6 1798.5,302.4 1803.0,301.2 1809.0,300.4" stroke-width="3.10"/><polyline points="1802.0,291.2 1804.3,293.8 1806.8,295.2 1809.0,296.5" stroke-width="2.59"/><polyline points="1789.6,315.0 1790.5,319.2 1792.4,323.2" stroke-width="1.73"/><polyline points="1760.0,412.2 1765.2,412.4" stroke-width="1.87"/><polyline points="1778.5,407.3 1784.5,406.2" stroke-width="1.44"/></g><g fill="#000"><circle cx="1563.2" cy="266.9" r="1.38"/><circle cx="1561.1" cy="267.1" r="1.27"/><circle cx="1559.5" cy="268.2" r="1.67"/><circle cx="1558.2" cy="270.1" r="1.86"/><circle cx="1556.5" cy="271.0" r="1.76"/><circle cx="1556.6" cy="270.8" r="1.30"/><circle cx="1554.7" cy="271.1" r="2.29"/><circle cx="1553.7" cy="272.7" r="1.48"/><circle cx="1551.6" cy="272.8" r="2.45"/><circle cx="1550.3" cy="273.9" r="1.71"/><circle cx="1548.3" cy="274.1" r="1.24"/><circle cx="1548.4" cy="274.4" r="1.57"/><circle cx="1548.2" cy="276.9" r="1.33"/><circle cx="1546.6" cy="277.8" r="2.27"/><circle cx="1545.4" cy="279.3" r="1.96"/><circle cx="1543.3" cy="279.8" r="1.68"/><circle cx="1543.4" cy="279.9" r="1.26"/><circle cx="1543.4" cy="282.1" r="1.45"/><circle cx="1541.1" cy="282.8" r="1.75"/><circle cx="1540.9" cy="284.7" r="1.96"/><circle cx="1539.6" cy="286.1" r="1.58"/><circle cx="1538.8" cy="285.8" r="2.12"/><circle cx="1539.6" cy="287.8" r="1.95"/><circle cx="1538.4" cy="289.2" r="2.35"/><circle cx="1537.5" cy="290.7" r="1.56"/><circle cx="1536.4" cy="292.2" r="1.33"/><circle cx="1537.7" cy="292.5" r="2.19"/><circle cx="1538.4" cy="294.3" r="1.83"/><circle cx="1538.7" cy="296.2" r="2.07"/><circle cx="1537.1" cy="298.1" r="1.95"/><circle cx="1536.9" cy="300.0" r="1.60"/><circle cx="1537.3" cy="300.1" r="1.97"/><circle cx="1537.9" cy="301.6" r="1.79"/><circle cx="1537.5" cy="303.3" r="2.45"/><circle cx="1538.6" cy="304.8" r="2.07"/><circle cx="1539.8" cy="306.2" r="2.12"/><circle cx="1538.7" cy="308.1" r="2.51"/><circle cx="1538.2" cy="307.9" r="1.56"/><circle cx="1539.1" cy="309.7" r="2.07"/><circle cx="1539.8" cy="311.4" r="1.80"/><circle cx="1539.3" cy="313.1" r="1.33"/><circle cx="1547.0" cy="267.4" r="2.37"/><circle cx="1548.8" cy="267.6" r="1.62"/><circle cx="1550.7" cy="268.2" r="2.51"/><circle cx="1552.5" cy="267.4" r="1.91"/><circle cx="1548.9" cy="270.1" r="2.03"/><circle cx="1547.3" cy="271.0" r="2.00"/><circle cx="1546.8" cy="273.0" r="1.49"/><circle cx="1545.4" cy="274.1" r="2.03"/><circle cx="1543.4" cy="274.4" r="1.18"/><circle cx="1543.2" cy="276.8" r="1.28"/><circle cx="1541.9" cy="277.9" r="1.57"/><circle cx="1541.4" cy="277.4" r="1.31"/><circle cx="1541.1" cy="279.6" r="1.49"/><circle cx="1539.4" cy="280.7" r="1.66"/><circle cx="1537.3" cy="281.4" r="1.80"/><circle cx="1536.8" cy="283.5" r="1.72"/><circle cx="1536.5" cy="283.4" r="1.07"/><circle cx="1535.3" cy="284.9" r="1.91"/><circle cx="1534.5" cy="286.7" r="1.93"/><circle cx="1534.6" cy="288.8" r="1.47"/><circle cx="1534.3" cy="290.8" r="1.74"/><circle cx="1534.5" cy="290.3" r="1.09"/><circle cx="1534.5" cy="292.1" r="1.19"/><circle cx="1534.6" cy="293.9" r="1.07"/><circle cx="1535.6" cy="295.6" r="1.18"/><circle cx="1535.8" cy="297.3" r="1.43"/><circle cx="1535.9" cy="297.3" r="2.02"/><circle cx="1535.2" cy="299.4" r="1.18"/><circle cx="1536.3" cy="301.1" r="1.41"/><circle cx="1536.5" cy="303.1" r="1.15"/><circle cx="1535.9" cy="305.1" r="2.15"/><circle cx="1536.7" cy="305.0" r="1.57"/><circle cx="1537.9" cy="306.8" r="1.13"/><circle cx="1537.8" cy="308.9" r="1.31"/><circle cx="1537.4" cy="311.2" r="1.19"/><circle cx="1568.5" cy="257.5" r="3.27"/><circle cx="1570.8" cy="256.4" r="1.83"/><circle cx="1571.7" cy="254.6" r="1.62"/><circle cx="1571.7" cy="254.6" r="3.32"/><circle cx="1573.5" cy="253.8" r="2.82"/><circle cx="1573.0" cy="251.4" r="2.23"/><circle cx="1586.3" cy="250.1" r="1.58"/><circle cx="1585.8" cy="251.5" r="1.59"/><circle cx="1601.1" cy="254.2" r="1.05"/><circle cx="1602.5" cy="255.5" r="1.79"/><circle cx="1604.2" cy="256.1" r="1.61"/><circle cx="1605.8" cy="256.5" r="1.55"/><circle cx="1606.0" cy="255.5" r="1.34"/><circle cx="1609.0" cy="256.0" r="0.87"/><circle cx="1611.2" cy="251.7" r="1.18"/><circle cx="1613.0" cy="251.6" r="1.61"/><circle cx="1614.9" cy="252.3" r="1.35"/><circle cx="1614.3" cy="252.2" r="1.91"/><circle cx="1615.9" cy="253.2" r="1.27"/><circle cx="1618.3" cy="253.1" r="1.13"/><circle cx="1622.7" cy="255.8" r="1.52"/><circle cx="1622.2" cy="257.8" r="2.50"/><circle cx="1622.2" cy="259.7" r="1.91"/><circle cx="1622.8" cy="259.8" r="2.36"/><circle cx="1624.9" cy="259.7" r="2.16"/><circle cx="1625.1" cy="262.3" r="2.33"/><circle cx="1626.6" cy="263.0" r="1.91"/><circle cx="1627.3" cy="261.8" r="2.34"/><circle cx="1629.1" cy="262.9" r="2.36"/><circle cx="1630.6" cy="265.1" r="1.79"/><circle cx="1631.0" cy="263.8" r="2.57"/><circle cx="1632.8" cy="264.3" r="1.47"/><circle cx="1634.2" cy="262.6" r="1.44"/><circle cx="1636.2" cy="264.2" r="2.37"/><circle cx="1635.6" cy="262.4" r="2.40"/><circle cx="1638.0" cy="263.5" r="2.16"/><circle cx="1638.8" cy="261.4" r="2.00"/><circle cx="1640.1" cy="260.2" r="1.25"/><circle cx="1641.4" cy="261.7" r="2.15"/><circle cx="1641.8" cy="259.5" r="2.55"/><circle cx="1642.9" cy="257.9" r="2.46"/><circle cx="1644.6" cy="244.3" r="2.50"/><circle cx="1647.5" cy="245.5" r="2.69"/><circle cx="1648.4" cy="247.6" r="3.37"/><circle cx="1648.4" cy="247.8" r="2.98"/><circle cx="1649.3" cy="249.7" r="4.11"/><circle cx="1648.8" cy="251.9" r="3.07"/><circle cx="1647.9" cy="251.9" r="4.10"/><circle cx="1648.0" cy="253.8" r="4.13"/><circle cx="1647.2" cy="255.5" r="3.24"/><circle cx="1655.7" cy="246.3" r="0.74"/><circle cx="1656.6" cy="247.9" r="0.88"/><circle cx="1658.0" cy="249.2" r="1.39"/><circle cx="1657.8" cy="249.7" r="1.12"/><circle cx="1656.2" cy="251.1" r="1.19"/><circle cx="1655.8" cy="253.1" r="1.16"/><circle cx="1655.5" cy="252.9" r="1.38"/><circle cx="1654.8" cy="254.8" r="1.19"/><circle cx="1653.5" cy="256.0" r="0.96"/><circle cx="1643.6" cy="256.7" r="0.88"/><circle cx="1644.8" cy="258.0" r="1.05"/><circle cx="1645.5" cy="259.7" r="0.84"/><circle cx="1646.8" cy="260.9" r="0.88"/><circle cx="1648.0" cy="262.3" r="1.00"/><circle cx="1648.1" cy="262.3" r="0.90"/><circle cx="1648.4" cy="265.3" r="1.16"/><circle cx="1647.8" cy="255.2" r="1.12"/><circle cx="1649.1" cy="256.9" r="0.73"/><circle cx="1651.0" cy="258.0" r="1.16"/><circle cx="1652.2" cy="259.8" r="0.65"/><circle cx="1652.8" cy="259.2" r="0.84"/><circle cx="1655.1" cy="261.2" r="0.71"/><circle cx="1649.0" cy="261.5" r="1.38"/><circle cx="1649.4" cy="263.6" r="1.59"/><circle cx="1651.4" cy="264.1" r="1.43"/><circle cx="1651.2" cy="264.7" r="0.91"/><circle cx="1652.9" cy="263.7" r="1.65"/><circle cx="1653.7" cy="261.7" r="1.64"/><circle cx="1648.0" cy="242.3" r="1.31"/><circle cx="1649.4" cy="243.7" r="1.64"/><circle cx="1651.3" cy="242.7" r="1.25"/><circle cx="1652.8" cy="243.6" r="1.17"/><circle cx="1654.5" cy="243.4" r="1.15"/><circle cx="1655.9" cy="244.7" r="0.86"/><circle cx="1656.0" cy="244.4" r="1.26"/><circle cx="1657.6" cy="243.5" r="1.16"/><circle cx="1659.2" cy="244.4" r="1.33"/><circle cx="1660.8" cy="243.4" r="1.79"/><circle cx="1662.4" cy="244.6" r="1.77"/><circle cx="1664.0" cy="243.4" r="1.09"/><circle cx="1663.9" cy="243.3" r="1.59"/><circle cx="1665.5" cy="243.5" r="0.96"/><circle cx="1667.2" cy="243.5" r="1.71"/><circle cx="1668.9" cy="244.0" r="1.09"/><circle cx="1670.3" cy="242.6" r="1.72"/><circle cx="1672.0" cy="243.1" r="1.51"/><circle cx="1672.0" cy="242.3" r="0.90"/><circle cx="1673.6" cy="243.3" r="1.25"/><circle cx="1675.2" cy="242.2" r="1.74"/><circle cx="1676.8" cy="243.1" r="1.61"/><circle cx="1678.4" cy="242.1" r="1.66"/><circle cx="1680.0" cy="242.1" r="1.67"/><circle cx="1680.0" cy="242.7" r="1.17"/><circle cx="1681.8" cy="242.6" r="1.73"/><circle cx="1683.4" cy="241.8" r="0.96"/><circle cx="1685.3" cy="241.9" r="1.07"/><circle cx="1686.9" cy="240.9" r="0.99"/><circle cx="1690.1" cy="239.6" r="0.90"/><circle cx="1691.7" cy="240.3" r="0.98"/><circle cx="1693.3" cy="241.3" r="0.97"/><circle cx="1695.0" cy="241.3" r="0.88"/><circle cx="1695.1" cy="241.1" r="0.74"/><circle cx="1697.0" cy="241.7" r="0.74"/><circle cx="1698.5" cy="243.1" r="1.19"/><circle cx="1700.7" cy="243.1" r="1.12"/><circle cx="1703.0" cy="249.3" r="0.82"/><circle cx="1704.4" cy="251.2" r="1.09"/><circle cx="1706.0" cy="253.0" r="1.42"/><circle cx="1706.1" cy="252.9" r="1.15"/><circle cx="1707.7" cy="254.2" r="1.55"/><circle cx="1709.8" cy="254.7" r="1.42"/><circle cx="1709.9" cy="255.2" r="1.26"/><circle cx="1711.5" cy="253.6" r="1.02"/><circle cx="1713.2" cy="252.0" r="0.84"/><circle cx="1716.2" cy="248.0" r="1.24"/><circle cx="1717.8" cy="247.2" r="0.80"/><circle cx="1719.2" cy="245.9" r="1.32"/><circle cx="1719.6" cy="246.9" r="1.19"/><circle cx="1721.2" cy="245.9" r="0.86"/><circle cx="1723.0" cy="245.6" r="1.02"/><circle cx="1723.3" cy="245.5" r="1.01"/><circle cx="1725.2" cy="246.9" r="1.41"/><circle cx="1726.7" cy="249.0" r="1.09"/><circle cx="1731.8" cy="253.8" r="1.53"/><circle cx="1732.7" cy="255.3" r="1.02"/><circle cx="1734.1" cy="256.6" r="1.05"/><circle cx="1734.5" cy="258.5" r="1.15"/><circle cx="1735.9" cy="259.8" r="1.15"/><circle cx="1735.9" cy="259.4" r="0.95"/><circle cx="1737.3" cy="260.3" r="1.06"/><circle cx="1738.8" cy="261.2" r="0.75"/><circle cx="1740.1" cy="262.4" r="0.92"/><circle cx="1739.9" cy="262.7" r="1.17"/><circle cx="1740.7" cy="264.3" r="1.28"/><circle cx="1741.7" cy="265.7" r="1.46"/><circle cx="1743.1" cy="266.9" r="1.00"/><circle cx="1740.9" cy="274.8" r="1.70"/><circle cx="1741.4" cy="276.8" r="2.53"/><circle cx="1743.2" cy="278.8" r="2.85"/><circle cx="1740.5" cy="280.4" r="2.50"/><circle cx="1741.0" cy="280.8" r="2.81"/><circle cx="1743.4" cy="281.9" r="2.33"/><circle cx="1743.3" cy="284.2" r="2.85"/><circle cx="1743.4" cy="286.4" r="2.83"/><circle cx="1744.0" cy="286.1" r="2.94"/><circle cx="1744.4" cy="287.7" r="2.61"/><circle cx="1746.3" cy="288.7" r="1.51"/><circle cx="1750.1" cy="296.1" r="1.98"/><circle cx="1751.0" cy="297.7" r="2.74"/><circle cx="1750.6" cy="299.9" r="2.40"/><circle cx="1751.2" cy="301.6" r="2.49"/><circle cx="1751.5" cy="301.5" r="1.41"/><circle cx="1752.2" cy="303.8" r="2.60"/><circle cx="1754.3" cy="305.0" r="2.26"/><circle cx="1755.8" cy="311.8" r="1.08"/><circle cx="1757.1" cy="313.0" r="1.30"/><circle cx="1759.3" cy="313.0" r="1.31"/><circle cx="1759.8" cy="315.1" r="1.24"/><circle cx="1761.2" cy="316.2" r="2.13"/><circle cx="1761.5" cy="315.8" r="1.45"/><circle cx="1762.7" cy="316.9" r="1.80"/><circle cx="1763.5" cy="318.5" r="1.72"/><circle cx="1764.8" cy="319.4" r="1.10"/><circle cx="1765.6" cy="318.8" r="1.30"/><circle cx="1765.9" cy="321.1" r="1.36"/><circle cx="1767.4" cy="322.5" r="1.02"/><circle cx="1767.6" cy="321.5" r="1.32"/><circle cx="1769.2" cy="323.0" r="1.81"/><circle cx="1770.9" cy="323.3" r="1.34"/><circle cx="1771.0" cy="322.9" r="1.54"/><circle cx="1773.0" cy="322.1" r="1.14"/><circle cx="1775.3" cy="322.1" r="1.24"/><circle cx="1763.9" cy="322.3" r="2.09"/><circle cx="1766.4" cy="321.7" r="1.54"/><circle cx="1766.8" cy="324.0" r="2.12"/><circle cx="1768.6" cy="324.4" r="1.32"/><circle cx="1768.4" cy="323.9" r="2.10"/><circle cx="1770.1" cy="323.8" r="1.68"/><circle cx="1771.8" cy="323.4" r="1.61"/><circle cx="1773.6" cy="324.9" r="1.16"/><circle cx="1774.0" cy="324.4" r="1.59"/><circle cx="1775.3" cy="323.2" r="1.82"/><circle cx="1775.4" cy="321.0" r="2.04"/><circle cx="1777.0" cy="320.0" r="1.04"/><circle cx="1775.8" cy="325.8" r="1.57"/><circle cx="1773.8" cy="326.2" r="1.36"/><circle cx="1772.8" cy="327.9" r="1.40"/><circle cx="1771.2" cy="328.7" r="1.98"/><circle cx="1770.1" cy="330.4" r="1.87"/><circle cx="1769.3" cy="329.0" r="1.15"/><circle cx="1767.5" cy="329.4" r="1.83"/><circle cx="1765.7" cy="330.0" r="1.34"/><circle cx="1764.3" cy="331.6" r="1.46"/><circle cx="1762.2" cy="330.9" r="1.69"/><circle cx="1762.5" cy="332.1" r="1.13"/><circle cx="1760.7" cy="332.5" r="0.80"/><circle cx="1758.8" cy="333.0" r="1.48"/><circle cx="1756.9" cy="333.0" r="1.56"/><circle cx="1755.1" cy="333.4" r="0.99"/><circle cx="1755.0" cy="333.0" r="0.92"/><circle cx="1753.4" cy="333.6" r="1.58"/><circle cx="1751.6" cy="333.2" r="1.46"/><circle cx="1750.1" cy="333.9" r="1.55"/><circle cx="1766.2" cy="214.5" r="1.73"/><circle cx="1765.6" cy="216.4" r="1.12"/><circle cx="1764.6" cy="218.1" r="1.61"/><circle cx="1763.5" cy="219.7" r="1.85"/><circle cx="1764.4" cy="220.2" r="1.12"/><circle cx="1762.5" cy="221.4" r="1.22"/><circle cx="1762.7" cy="223.5" r="1.48"/><circle cx="1762.4" cy="225.4" r="1.96"/><circle cx="1760.4" cy="226.6" r="1.38"/><circle cx="1761.0" cy="226.9" r="1.43"/><circle cx="1760.8" cy="228.6" r="1.54"/><circle cx="1761.3" cy="230.5" r="1.26"/><circle cx="1760.9" cy="232.1" r="2.17"/><circle cx="1784.8" cy="201.0" r="1.23"/><circle cx="1782.9" cy="201.4" r="2.10"/><circle cx="1782.0" cy="203.2" r="1.14"/><circle cx="1780.8" cy="204.7" r="1.08"/><circle cx="1779.2" cy="205.5" r="1.08"/><circle cx="1779.3" cy="205.7" r="1.27"/><circle cx="1777.4" cy="206.3" r="1.97"/><circle cx="1775.7" cy="207.2" r="1.44"/><circle cx="1774.6" cy="208.8" r="1.57"/><circle cx="1773.1" cy="210.0" r="1.36"/><circle cx="1773.6" cy="210.4" r="1.29"/><circle cx="1770.9" cy="210.5" r="1.12"/><circle cx="1770.1" cy="212.6" r="1.69"/><circle cx="1768.1" cy="213.5" r="1.22"/><circle cx="1771.0" cy="268.4" r="1.19"/><circle cx="1771.3" cy="270.2" r="1.39"/><circle cx="1770.8" cy="272.2" r="1.82"/><circle cx="1771.4" cy="273.9" r="0.95"/><circle cx="1773.4" cy="275.3" r="1.67"/><circle cx="1777.5" cy="310.9" r="1.38"/><circle cx="1777.6" cy="312.8" r="0.90"/><circle cx="1777.6" cy="314.8" r="1.85"/><circle cx="1776.4" cy="316.5" r="1.77"/><circle cx="1775.8" cy="318.3" r="1.15"/><circle cx="1534.7" cy="376.7" r="1.12"/><circle cx="1534.8" cy="378.8" r="1.69"/><circle cx="1535.0" cy="380.9" r="1.74"/><circle cx="1536.3" cy="382.4" r="1.78"/><circle cx="1673.6" cy="406.0" r="1.92"/><circle cx="1675.0" cy="407.8" r="2.23"/><circle cx="1674.9" cy="409.9" r="2.41"/><circle cx="1674.0" cy="409.9" r="1.58"/><circle cx="1674.8" cy="412.2" r="1.51"/><circle cx="1673.2" cy="413.9" r="2.11"/><circle cx="1664.0" cy="422.2" r="1.36"/><circle cx="1666.0" cy="422.1" r="2.10"/><circle cx="1667.3" cy="420.8" r="1.58"/><circle cx="1667.2" cy="421.0" r="1.28"/><circle cx="1668.3" cy="422.6" r="1.92"/><circle cx="1666.9" cy="424.5" r="2.19"/><circle cx="1667.3" cy="426.2" r="1.94"/><circle cx="1669.0" cy="426.0" r="1.62"/><circle cx="1667.2" cy="428.1" r="2.27"/><circle cx="1669.0" cy="430.0" r="1.29"/><circle cx="1668.6" cy="432.0" r="2.23"/><circle cx="1660.9" cy="426.4" r="0.94"/><circle cx="1662.9" cy="425.2" r="1.50"/><circle cx="1664.2" cy="423.2" r="0.76"/><circle cx="1676.4" cy="379.4" r="1.08"/><circle cx="1678.8" cy="379.2" r="0.89"/><circle cx="1681.1" cy="378.6" r="1.34"/><circle cx="1681.0" cy="378.2" r="0.90"/><circle cx="1682.4" cy="379.7" r="0.99"/><circle cx="1684.3" cy="380.4" r="0.92"/><circle cx="1684.9" cy="379.9" r="1.36"/><circle cx="1685.4" cy="382.2" r="1.52"/><circle cx="1685.8" cy="384.5" r="0.88"/><circle cx="1761.9" cy="352.0" r="1.57"/><circle cx="1763.8" cy="352.8" r="2.22"/><circle cx="1765.5" cy="351.5" r="1.54"/><circle cx="1767.3" cy="351.5" r="2.25"/><circle cx="1769.1" cy="351.1" r="1.13"/><circle cx="1770.9" cy="350.8" r="1.54"/><circle cx="1770.8" cy="352.5" r="2.14"/><circle cx="1772.7" cy="352.7" r="2.28"/><circle cx="1774.3" cy="353.6" r="1.46"/><circle cx="1776.6" cy="352.6" r="2.20"/><circle cx="1778.1" cy="354.3" r="1.10"/><circle cx="1779.9" cy="354.6" r="1.52"/><circle cx="1780.1" cy="354.1" r="1.47"/><circle cx="1781.8" cy="354.5" r="1.07"/><circle cx="1783.2" cy="355.6" r="1.49"/><circle cx="1784.0" cy="357.6" r="1.21"/><circle cx="1785.5" cy="358.5" r="1.32"/><circle cx="1787.6" cy="358.2" r="2.06"/><circle cx="1788.7" cy="359.9" r="1.59"/><circle cx="1789.3" cy="358.4" r="1.64"/><circle cx="1790.9" cy="359.6" r="2.18"/><circle cx="1792.8" cy="359.9" r="1.51"/><circle cx="1794.1" cy="361.9" r="1.10"/><circle cx="1796.3" cy="361.5" r="2.05"/><circle cx="1797.8" cy="362.8" r="1.11"/><circle cx="1798.2" cy="361.3" r="1.14"/><circle cx="1799.7" cy="363.5" r="1.38"/><circle cx="1801.6" cy="363.5" r="2.16"/><circle cx="1803.6" cy="363.0" r="1.40"/><circle cx="1805.2" cy="364.6" r="1.81"/><circle cx="1807.3" cy="363.5" r="1.94"/><circle cx="1809.1" cy="363.9" r="1.40"/><circle cx="1745.0" cy="361.7" r="1.62"/><circle cx="1746.6" cy="363.3" r="1.50"/><circle cx="1748.2" cy="363.3" r="0.89"/><circle cx="1749.8" cy="362.1" r="1.34"/><circle cx="1751.4" cy="363.3" r="1.81"/><circle cx="1753.0" cy="362.3" r="1.12"/><circle cx="1753.1" cy="362.4" r="1.36"/><circle cx="1754.3" cy="364.4" r="1.05"/><circle cx="1756.2" cy="365.4" r="1.60"/><circle cx="1756.1" cy="364.6" r="1.63"/><circle cx="1754.9" cy="366.3" r="1.19"/><circle cx="1753.7" cy="368.0" r="1.23"/><circle cx="1753.3" cy="368.2" r="0.95"/><circle cx="1755.5" cy="368.1" r="1.61"/><circle cx="1757.3" cy="369.0" r="0.93"/><circle cx="1759.3" cy="369.5" r="1.42"/><circle cx="1759.0" cy="369.9" r="1.84"/><circle cx="1760.8" cy="370.7" r="1.85"/><circle cx="1762.5" cy="369.4" r="0.95"/><circle cx="1764.2" cy="369.0" r="1.36"/><circle cx="1766.0" cy="369.9" r="1.31"/><circle cx="1787.2" cy="384.8" r="0.95"/><circle cx="1788.6" cy="386.1" r="1.14"/><circle cx="1790.2" cy="387.0" r="1.27"/><circle cx="1791.9" cy="387.7" r="0.73"/><circle cx="1793.5" cy="388.8" r="0.86"/><circle cx="1795.3" cy="389.3" r="0.92"/><circle cx="1796.9" cy="390.3" r="0.79"/><circle cx="1797.1" cy="389.7" r="0.82"/><circle cx="1798.8" cy="390.2" r="1.29"/><circle cx="1800.3" cy="391.4" r="0.88"/><circle cx="1802.0" cy="391.8" r="1.37"/><circle cx="1803.6" cy="392.6" r="0.81"/><circle cx="1805.1" cy="393.7" r="1.12"/><circle cx="1806.7" cy="394.5" r="0.72"/><circle cx="1808.6" cy="394.6" r="1.25"/><circle cx="1797.6" cy="380.3" r="1.49"/><circle cx="1799.7" cy="380.9" r="0.97"/><circle cx="1800.8" cy="382.3" r="0.89"/><circle cx="1801.0" cy="384.5" r="1.21"/><circle cx="1801.0" cy="384.4" r="1.04"/><circle cx="1802.3" cy="386.1" r="1.10"/><circle cx="1804.3" cy="387.3" r="1.38"/><circle cx="1744.3" cy="380.0" r="0.72"/><circle cx="1746.0" cy="379.2" r="1.10"/><circle cx="1747.7" cy="378.4" r="0.92"/><circle cx="1749.4" cy="378.0" r="0.79"/><circle cx="1751.2" cy="377.9" r="1.09"/><circle cx="1753.0" cy="378.1" r="0.79"/><circle cx="1753.0" cy="377.3" r="0.88"/><circle cx="1754.8" cy="378.0" r="0.78"/><circle cx="1756.6" cy="377.4" r="0.79"/><circle cx="1758.4" cy="377.9" r="1.05"/><circle cx="1760.2" cy="376.8" r="0.72"/><circle cx="1762.0" cy="377.1" r="1.05"/><circle cx="1711.0" cy="374.5" r="1.05"/><circle cx="1712.8" cy="373.4" r="1.71"/><circle cx="1714.6" cy="373.6" r="1.26"/><circle cx="1716.5" cy="373.2" r="1.99"/><circle cx="1717.8" cy="367.1" r="1.15"/><circle cx="1719.4" cy="365.9" r="1.03"/><circle cx="1721.3" cy="365.2" r="1.50"/><circle cx="1722.4" cy="363.4" r="0.86"/><circle cx="1724.2" cy="362.5" r="0.86"/><circle cx="1723.7" cy="361.7" r="1.42"/><circle cx="1725.7" cy="361.3" r="1.36"/><circle cx="1727.3" cy="360.5" r="1.41"/><circle cx="1729.1" cy="359.7" r="0.83"/><circle cx="1730.5" cy="358.3" r="1.14"/><circle cx="1732.6" cy="358.2" r="1.43"/><circle cx="1732.4" cy="357.4" r="1.20"/><circle cx="1734.1" cy="357.5" r="1.10"/><circle cx="1735.7" cy="356.9" r="0.93"/><circle cx="1737.4" cy="357.0" r="1.44"/><circle cx="1739.0" cy="356.1" r="1.09"/><circle cx="1740.8" cy="356.8" r="1.47"/><circle cx="1742.3" cy="355.6" r="0.80"/><circle cx="1744.1" cy="356.3" r="1.48"/><circle cx="1744.0" cy="355.7" r="0.74"/><circle cx="1745.8" cy="356.2" r="1.01"/><circle cx="1747.6" cy="356.0" r="1.20"/><circle cx="1749.4" cy="355.7" r="0.83"/><circle cx="1751.2" cy="355.5" r="0.88"/><circle cx="1753.0" cy="354.9" r="1.38"/><circle cx="1753.0" cy="355.5" r="0.85"/><circle cx="1754.8" cy="354.5" r="1.02"/><circle cx="1756.6" cy="354.7" r="1.01"/><circle cx="1758.4" cy="354.1" r="0.90"/><circle cx="1760.2" cy="354.8" r="1.42"/><circle cx="1762.0" cy="353.7" r="1.15"/><circle cx="1793.5" cy="300.1" r="1.26"/><circle cx="1794.9" cy="301.2" r="1.37"/><circle cx="1796.8" cy="301.7" r="1.96"/><circle cx="1798.3" cy="302.7" r="1.63"/><circle cx="1798.5" cy="302.2" r="2.01"/><circle cx="1800.7" cy="301.6" r="2.11"/><circle cx="1803.0" cy="301.1" r="1.81"/><circle cx="1802.8" cy="300.1" r="2.06"/><circle cx="1805.0" cy="300.9" r="1.53"/><circle cx="1807.1" cy="301.3" r="2.28"/><circle cx="1809.0" cy="300.3" r="1.45"/><circle cx="1802.0" cy="291.2" r="1.13"/><circle cx="1803.7" cy="292.0" r="1.50"/><circle cx="1804.9" cy="293.3" r="1.52"/><circle cx="1804.3" cy="293.8" r="1.05"/><circle cx="1806.7" cy="295.4" r="1.10"/><circle cx="1806.6" cy="295.6" r="1.90"/><circle cx="1809.0" cy="296.5" r="1.07"/><circle cx="1789.6" cy="315.0" r="0.96"/><circle cx="1789.5" cy="317.2" r="0.78"/><circle cx="1790.0" cy="319.3" r="1.44"/><circle cx="1790.2" cy="319.3" r="1.30"/><circle cx="1791.8" cy="321.0" r="1.43"/><circle cx="1792.4" cy="323.2" r="1.41"/><circle cx="1760.0" cy="412.8" r="0.87"/><circle cx="1761.7" cy="412.7" r="1.50"/><circle cx="1763.5" cy="411.7" r="1.02"/><circle cx="1765.2" cy="412.8" r="0.86"/><circle cx="1778.6" cy="407.7" r="0.74"/><circle cx="1780.6" cy="407.3" r="0.65"/><circle cx="1782.5" cy="406.6" r="1.15"/><circle cx="1784.4" cy="405.9" r="0.73"/></g><g fill="none" stroke="#97b6e1" stroke-linecap="round"></g><g fill="none" stroke="#000" stroke-width="1.5" stroke-linejoin="round"><polyline points="1583.6,199.0 1583.6,214.7 1586.7,220.2 1589.4,226.8 1590.5,231.1 1588.9,236.6 1588.0,243.2 1586.7,248.7 1586.1,252.0"/><polyline points="1624.3,199.0 1624.3,203.8 1626.8,210.3 1623.0,216.9 1619.2,223.5 1617.0,229.0 1617.0,231.7 1643.8,231.7 1642.7,236.6 1644.9,241.0 1646.0,244.3"/><polyline points="1663.5,199.0 1661.3,216.9 1662.7,242.0"/><polyline points="1675.6,241.5 1675.6,236.6 1673.4,231.7 1709.5,231.4"/><polyline points="1707.5,199.2 1710.3,206.0 1710.8,211.4 1708.1,218.0 1709.2,225.7 1710.3,232.2 1711.9,236.6 1749.1,239.4 1749.7,242.1 1751.3,241.5 1751.3,236.6 1753.5,235.0 1760.0,236.1"/><polyline points="1758.5,199.2 1761.2,206.0 1764.5,212.5 1767.5,215.0"/><polyline points="1514.2,305.5 1521.0,308.3 1529.7,311.0 1538.5,312.8"/></g><g fill="none" stroke="#97b6e1" stroke-width="1.8" stroke-linejoin="round" stroke-linecap="round"><polyline points="1518.2,199.2 1522.0,199.9 1526.4,203.8 1531.9,209.2 1535.2,213.1 1538.5,219.1 1542.9,225.7 1546.1,233.3 1551.6,241.0 1554.4,243.2 1553.8,247.6 1556.0,254.1 1560.9,256.3 1562.0,262.9 1564.8,265.1"/><polyline points="1617.0,232.2 1621.9,239.9 1627.4,246.5 1634.0,248.7 1640.5,249.8 1642.7,254.1 1647.1,259.6 1651.5,262.9"/><polyline points="1688.7,199.0 1693.1,204.9 1689.8,209.2 1682.1,209.2 1676.7,214.7 1674.5,222.4 1670.1,228.9 1667.9,236.6"/><polyline points="1711.4,237.2 1708.6,245.4 1709.7,250.9"/><polyline points="1514.1,374.8 1522.7,371.9 1530.8,368.9"/><polyline points="1601.6,422.7 1603.0,427.1 1608.2,427.9 1610.4,431.6"/><polyline points="1604.5,422.5 1607.0,426.5"/><polyline points="1514.2,305.5 1521.0,308.3 1529.7,311.0 1538.5,312.8" stroke-dasharray="3 3.5" stroke-width="1.3"/></g><g fill="none" stroke="#1a2230" stroke-width="1.2" stroke-dasharray="1.6 1.4" stroke-linecap="round"><polyline points="1774,342 1777.5,346.5"/><polyline points="1781.5,341.5 1787.5,349.5"/></g><g fill="#6f85a6"><circle cx="1620.3" cy="370.6" r="0.9"/><circle cx="1608.3" cy="388.3" r="0.9"/><circle cx="1612.3" cy="399.2" r="0.9"/><circle cx="1677.6" cy="422.1" r="0.9"/><circle cx="1739.7" cy="332.4" r="0.9"/><circle cx="1794" cy="310.8" r="0.9"/><circle cx="1796.5" cy="311.5" r="0.9"/></g><circle cx="1706.4" cy="323.3" r="6.2" fill="#0000ff"/></g><polyline points="1513.3999999999999,432.25 1808.6,432.25 1808.6,198.5" fill="none" stroke="#000" stroke-width="1.39"/><line x1="1786" y1="199.2" x2="1808.6" y2="199.2" stroke="#000" stroke-width="1.39"/><g stroke="#000" stroke-width="3.3"><line x1="1514.10" y1="432.25" x2="1514.10" y2="440.95"/><line x1="1514.10" y1="199.2" x2="1514.10" y2="190.5"/><line x1="1556.17" y1="432.25" x2="1556.17" y2="440.95"/><line x1="1556.17" y1="199.2" x2="1556.17" y2="190.5"/><line x1="1598.24" y1="432.25" x2="1598.24" y2="440.95"/><line x1="1598.24" y1="199.2" x2="1598.24" y2="190.5"/><line x1="1640.31" y1="432.25" x2="1640.31" y2="440.95"/><line x1="1640.31" y1="199.2" x2="1640.31" y2="190.5"/><line x1="1682.39" y1="432.25" x2="1682.39" y2="440.95"/><line x1="1682.39" y1="199.2" x2="1682.39" y2="190.5"/><line x1="1724.46" y1="432.25" x2="1724.46" y2="440.95"/><line x1="1724.46" y1="199.2" x2="1724.46" y2="190.5"/><line x1="1766.53" y1="432.25" x2="1766.53" y2="440.95"/><line x1="1766.53" y1="199.2" x2="1766.53" y2="190.5"/><line x1="1808.60" y1="432.25" x2="1808.60" y2="440.95"/><line x1="1808.60" y1="199.2" x2="1808.60" y2="190.5"/><line x1="1514.1" y1="432.25" x2="1505.3999999999999" y2="432.25"/><line x1="1808.6" y1="432.25" x2="1817.3" y2="432.25"/><line x1="1514.1" y1="387.80" x2="1505.3999999999999" y2="387.80"/><line x1="1808.6" y1="387.80" x2="1817.3" y2="387.80"/><line x1="1514.1" y1="342.45" x2="1505.3999999999999" y2="342.45"/><line x1="1808.6" y1="342.45" x2="1817.3" y2="342.45"/><line x1="1514.1" y1="296.02" x2="1505.3999999999999" y2="296.02"/><line x1="1808.6" y1="296.02" x2="1817.3" y2="296.02"/><line x1="1514.1" y1="248.34" x2="1505.3999999999999" y2="248.34"/><line x1="1808.6" y1="248.34" x2="1817.3" y2="248.34"/><line x1="1514.1" y1="199.20" x2="1505.3999999999999" y2="199.20"/><line x1="1808.6" y1="199.20" x2="1817.3" y2="199.20"/></g><g stroke="#000" stroke-width="1.4"><line x1="1528.12" y1="432.25" x2="1528.12" y2="435.05"/><line x1="1528.12" y1="199.2" x2="1528.12" y2="196.39999999999998"/><line x1="1542.15" y1="432.25" x2="1542.15" y2="435.05"/><line x1="1542.15" y1="199.2" x2="1542.15" y2="196.39999999999998"/><line x1="1570.20" y1="432.25" x2="1570.20" y2="435.05"/><line x1="1570.20" y1="199.2" x2="1570.20" y2="196.39999999999998"/><line x1="1584.22" y1="432.25" x2="1584.22" y2="435.05"/><line x1="1584.22" y1="199.2" x2="1584.22" y2="196.39999999999998"/><line x1="1612.27" y1="432.25" x2="1612.27" y2="435.05"/><line x1="1612.27" y1="199.2" x2="1612.27" y2="196.39999999999998"/><line x1="1626.29" y1="432.25" x2="1626.29" y2="435.05"/><line x1="1626.29" y1="199.2" x2="1626.29" y2="196.39999999999998"/><line x1="1654.34" y1="432.25" x2="1654.34" y2="435.05"/><line x1="1654.34" y1="199.2" x2="1654.34" y2="196.39999999999998"/><line x1="1668.36" y1="432.25" x2="1668.36" y2="435.05"/><line x1="1668.36" y1="199.2" x2="1668.36" y2="196.39999999999998"/><line x1="1696.41" y1="432.25" x2="1696.41" y2="435.05"/><line x1="1696.41" y1="199.2" x2="1696.41" y2="196.39999999999998"/><line x1="1710.43" y1="432.25" x2="1710.43" y2="435.05"/><line x1="1710.43" y1="199.2" x2="1710.43" y2="196.39999999999998"/><line x1="1738.48" y1="432.25" x2="1738.48" y2="435.05"/><line x1="1738.48" y1="199.2" x2="1738.48" y2="196.39999999999998"/><line x1="1752.50" y1="432.25" x2="1752.50" y2="435.05"/><line x1="1752.50" y1="199.2" x2="1752.50" y2="196.39999999999998"/><line x1="1780.55" y1="432.25" x2="1780.55" y2="435.05"/><line x1="1780.55" y1="199.2" x2="1780.55" y2="196.39999999999998"/><line x1="1794.58" y1="432.25" x2="1794.58" y2="435.05"/><line x1="1794.58" y1="199.2" x2="1794.58" y2="196.39999999999998"/><line x1="1514.1" y1="417.52" x2="1511.3" y2="417.52"/><line x1="1808.6" y1="417.52" x2="1811.3999999999999" y2="417.52"/><line x1="1514.1" y1="402.71" x2="1511.3" y2="402.71"/><line x1="1808.6" y1="402.71" x2="1811.3999999999999" y2="402.71"/><line x1="1514.1" y1="372.79" x2="1511.3" y2="372.79"/><line x1="1808.6" y1="372.79" x2="1811.3999999999999" y2="372.79"/><line x1="1514.1" y1="357.68" x2="1511.3" y2="357.68"/><line x1="1808.6" y1="357.68" x2="1811.3999999999999" y2="357.68"/><line x1="1514.1" y1="327.10" x2="1511.3" y2="327.10"/><line x1="1808.6" y1="327.10" x2="1811.3999999999999" y2="327.10"/><line x1="1514.1" y1="311.63" x2="1511.3" y2="311.63"/><line x1="1808.6" y1="311.63" x2="1811.3999999999999" y2="311.63"/><line x1="1514.1" y1="280.28" x2="1511.3" y2="280.28"/><line x1="1808.6" y1="280.28" x2="1811.3999999999999" y2="280.28"/><line x1="1514.1" y1="264.39" x2="1511.3" y2="264.39"/><line x1="1808.6" y1="264.39" x2="1811.3999999999999" y2="264.39"/><line x1="1514.1" y1="232.14" x2="1511.3" y2="232.14"/><line x1="1808.6" y1="232.14" x2="1811.3999999999999" y2="232.14"/><line x1="1514.1" y1="215.76" x2="1511.3" y2="215.76"/><line x1="1808.6" y1="215.76" x2="1811.3999999999999" y2="215.76"/></g><text x="1494.92" y="458.00" font-size="14.70" fill="#000" textLength="38.35" lengthAdjust="spacingAndGlyphs">99°W</text><text x="1536.99" y="458.00" font-size="14.70" fill="#000" textLength="38.35" lengthAdjust="spacingAndGlyphs">96°W</text><text x="1579.07" y="458.00" font-size="14.70" fill="#000" textLength="38.35" lengthAdjust="spacingAndGlyphs">93°W</text><text x="1621.14" y="458.00" font-size="14.70" fill="#000" textLength="38.35" lengthAdjust="spacingAndGlyphs">90°W</text><text x="1663.21" y="458.00" font-size="14.70" fill="#000" textLength="38.35" lengthAdjust="spacingAndGlyphs">87°W</text><text x="1705.28" y="458.00" font-size="14.70" fill="#000" textLength="38.35" lengthAdjust="spacingAndGlyphs">84°W</text><text x="1747.35" y="458.00" font-size="14.70" fill="#000" textLength="38.35" lengthAdjust="spacingAndGlyphs">81°W</text><text x="1789.42" y="458.00" font-size="14.70" fill="#000" textLength="38.35" lengthAdjust="spacingAndGlyphs">78°W</text><text x="1463.59" y="437.55" font-size="14.70" fill="#000" textLength="35.01" lengthAdjust="spacingAndGlyphs">18°N</text><text x="1463.59" y="393.10" font-size="14.70" fill="#000" textLength="35.01" lengthAdjust="spacingAndGlyphs">21°N</text><text x="1463.59" y="347.75" font-size="14.70" fill="#000" textLength="35.01" lengthAdjust="spacingAndGlyphs">24°N</text><text x="1463.59" y="301.32" font-size="14.70" fill="#000" textLength="35.01" lengthAdjust="spacingAndGlyphs">27°N</text><text x="1463.59" y="253.64" font-size="14.70" fill="#000" textLength="35.01" lengthAdjust="spacingAndGlyphs">30°N</text><text x="1463.59" y="204.50" font-size="14.70" fill="#000" textLength="35.01" lengthAdjust="spacingAndGlyphs">33°N</text></svg></body></html>
